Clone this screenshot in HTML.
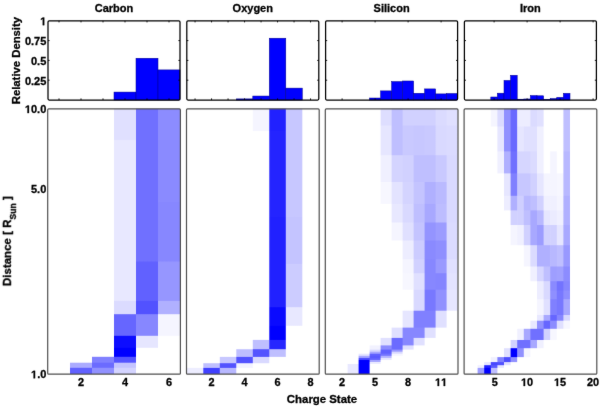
<!DOCTYPE html><html><head><meta charset="utf-8"><style>html,body{margin:0;padding:0;background:#fff;}svg{display:block;}text{font-family:"Liberation Sans",sans-serif;font-weight:bold;fill:#000;stroke:#000;stroke-width:0.3px;}svg{will-change:transform;}</style></head><body>
<svg width="600" height="407" viewBox="0 0 600 407">
<defs><filter id="k" filterUnits="userSpaceOnUse" x="0" y="0" width="600" height="407" color-interpolation-filters="sRGB"><feConvolveMatrix order="3" kernelMatrix="0.01 0.05 0.01 0.05 0.76 0.05 0.01 0.05 0.01" divisor="1" edgeMode="duplicate"/></filter></defs>
<rect width="600" height="407" fill="#fff"/>
<g filter="url(#k)">
<rect width="600" height="407" fill="#fff"/>
<text x="114.0" y="12.1" font-size="11" text-anchor="middle">Carbon</text>
<rect x="114.00" y="92.08" width="22.00" height="7.92" fill="#0000ff" stroke="#00008a" stroke-width="0.5"/>
<rect x="136.00" y="58.26" width="22.00" height="41.74" fill="#0000ff" stroke="#00008a" stroke-width="0.5"/>
<rect x="158.00" y="69.90" width="22.00" height="30.10" fill="#0000ff" stroke="#00008a" stroke-width="0.5"/>
<rect x="48.0" y="20.8" width="132.0" height="79.2" fill="none" stroke="#000" stroke-width="1.25" rx="1.2"/>
<line x1="59.00" y1="20.8" x2="59.00" y2="22.400000000000002" stroke="#000" stroke-width="0.9"/>
<line x1="59.00" y1="100.0" x2="59.00" y2="98.4" stroke="#000" stroke-width="0.9"/>
<line x1="81.00" y1="20.8" x2="81.00" y2="22.400000000000002" stroke="#000" stroke-width="0.9"/>
<line x1="81.00" y1="100.0" x2="81.00" y2="98.4" stroke="#000" stroke-width="0.9"/>
<line x1="103.00" y1="20.8" x2="103.00" y2="22.400000000000002" stroke="#000" stroke-width="0.9"/>
<line x1="103.00" y1="100.0" x2="103.00" y2="98.4" stroke="#000" stroke-width="0.9"/>
<line x1="125.00" y1="20.8" x2="125.00" y2="22.400000000000002" stroke="#000" stroke-width="0.9"/>
<line x1="125.00" y1="100.0" x2="125.00" y2="98.4" stroke="#000" stroke-width="0.9"/>
<line x1="147.00" y1="20.8" x2="147.00" y2="22.400000000000002" stroke="#000" stroke-width="0.9"/>
<line x1="147.00" y1="100.0" x2="147.00" y2="98.4" stroke="#000" stroke-width="0.9"/>
<line x1="169.00" y1="20.8" x2="169.00" y2="22.400000000000002" stroke="#000" stroke-width="0.9"/>
<line x1="169.00" y1="100.0" x2="169.00" y2="98.4" stroke="#000" stroke-width="0.9"/>
<line x1="48.0" y1="80.20" x2="49.6" y2="80.20" stroke="#000" stroke-width="0.9"/>
<line x1="180.0" y1="80.20" x2="178.4" y2="80.20" stroke="#000" stroke-width="0.9"/>
<line x1="48.0" y1="60.40" x2="49.6" y2="60.40" stroke="#000" stroke-width="0.9"/>
<line x1="180.0" y1="60.40" x2="178.4" y2="60.40" stroke="#000" stroke-width="0.9"/>
<line x1="48.0" y1="40.60" x2="49.6" y2="40.60" stroke="#000" stroke-width="0.9"/>
<line x1="180.0" y1="40.60" x2="178.4" y2="40.60" stroke="#000" stroke-width="0.9"/>
<linearGradient id="g0_2" gradientUnits="userSpaceOnUse" x1="0" y1="108.75" x2="0" y2="374.0"><stop offset="0.0000" stop-color="rgb(255,255,255)"/><stop offset="0.1159" stop-color="rgb(255,255,255)"/><stop offset="0.1197" stop-color="rgb(255,255,255)"/><stop offset="0.3497" stop-color="rgb(255,255,255)"/><stop offset="0.3534" stop-color="rgb(255,255,255)"/><stop offset="0.5740" stop-color="rgb(255,255,255)"/><stop offset="0.5778" stop-color="rgb(255,255,255)"/><stop offset="0.7225" stop-color="rgb(255,255,255)"/><stop offset="0.7263" stop-color="rgb(255,255,255)"/><stop offset="0.7727" stop-color="rgb(255,255,255)"/><stop offset="0.7764" stop-color="rgb(255,255,255)"/><stop offset="0.8541" stop-color="rgb(255,255,255)"/><stop offset="0.8579" stop-color="rgb(255,255,255)"/><stop offset="0.8993" stop-color="rgb(255,255,255)"/><stop offset="0.9031" stop-color="rgb(255,255,255)"/><stop offset="0.9333" stop-color="rgb(255,255,255)"/><stop offset="0.9370" stop-color="rgb(255,255,255)"/><stop offset="0.9555" stop-color="rgb(255,255,255)"/><stop offset="0.9593" stop-color="rgb(171,171,255)"/><stop offset="0.9747" stop-color="rgb(171,171,255)"/><stop offset="0.9785" stop-color="rgb(97,97,255)"/><stop offset="1.0000" stop-color="rgb(97,97,255)"/></linearGradient>
<rect x="70.00" y="108.75" width="22.60" height="265.25" fill="url(#g0_2)"/>
<linearGradient id="g0_3" gradientUnits="userSpaceOnUse" x1="0" y1="108.75" x2="0" y2="374.0"><stop offset="0.0000" stop-color="rgb(255,255,255)"/><stop offset="0.1159" stop-color="rgb(255,255,255)"/><stop offset="0.1197" stop-color="rgb(255,255,255)"/><stop offset="0.3497" stop-color="rgb(255,255,255)"/><stop offset="0.3534" stop-color="rgb(255,255,255)"/><stop offset="0.5740" stop-color="rgb(255,255,255)"/><stop offset="0.5778" stop-color="rgb(255,255,255)"/><stop offset="0.7225" stop-color="rgb(255,255,255)"/><stop offset="0.7263" stop-color="rgb(255,255,255)"/><stop offset="0.7727" stop-color="rgb(255,255,255)"/><stop offset="0.7764" stop-color="rgb(255,255,255)"/><stop offset="0.8541" stop-color="rgb(255,255,255)"/><stop offset="0.8579" stop-color="rgb(255,255,255)"/><stop offset="0.8993" stop-color="rgb(255,255,255)"/><stop offset="0.9031" stop-color="rgb(255,255,255)"/><stop offset="0.9333" stop-color="rgb(255,255,255)"/><stop offset="0.9370" stop-color="rgb(128,128,255)"/><stop offset="0.9555" stop-color="rgb(128,128,255)"/><stop offset="0.9593" stop-color="rgb(107,107,255)"/><stop offset="0.9747" stop-color="rgb(107,107,255)"/><stop offset="0.9785" stop-color="rgb(145,145,255)"/><stop offset="1.0000" stop-color="rgb(145,145,255)"/></linearGradient>
<rect x="92.00" y="108.75" width="22.60" height="265.25" fill="url(#g0_3)"/>
<linearGradient id="g0_4" gradientUnits="userSpaceOnUse" x1="0" y1="108.75" x2="0" y2="374.0"><stop offset="0.0000" stop-color="rgb(224,224,255)"/><stop offset="0.1159" stop-color="rgb(224,224,255)"/><stop offset="0.1197" stop-color="rgb(232,232,255)"/><stop offset="0.3497" stop-color="rgb(232,232,255)"/><stop offset="0.3534" stop-color="rgb(232,232,255)"/><stop offset="0.5740" stop-color="rgb(232,232,255)"/><stop offset="0.5778" stop-color="rgb(232,232,255)"/><stop offset="0.7225" stop-color="rgb(232,232,255)"/><stop offset="0.7263" stop-color="rgb(219,219,255)"/><stop offset="0.7727" stop-color="rgb(219,219,255)"/><stop offset="0.7764" stop-color="rgb(102,102,255)"/><stop offset="0.8541" stop-color="rgb(102,102,255)"/><stop offset="0.8579" stop-color="rgb(13,13,255)"/><stop offset="0.8993" stop-color="rgb(13,13,255)"/><stop offset="0.9031" stop-color="rgb(0,0,255)"/><stop offset="0.9333" stop-color="rgb(0,0,255)"/><stop offset="0.9370" stop-color="rgb(84,84,255)"/><stop offset="0.9555" stop-color="rgb(84,84,255)"/><stop offset="0.9593" stop-color="rgb(196,196,255)"/><stop offset="0.9747" stop-color="rgb(196,196,255)"/><stop offset="0.9785" stop-color="rgb(212,212,255)"/><stop offset="1.0000" stop-color="rgb(212,212,255)"/></linearGradient>
<rect x="114.00" y="108.75" width="22.60" height="265.25" fill="url(#g0_4)"/>
<linearGradient id="g0_5" gradientUnits="userSpaceOnUse" x1="0" y1="108.75" x2="0" y2="374.0"><stop offset="0.0000" stop-color="rgb(112,112,255)"/><stop offset="0.1159" stop-color="rgb(112,112,255)"/><stop offset="0.1197" stop-color="rgb(112,112,255)"/><stop offset="0.3497" stop-color="rgb(112,112,255)"/><stop offset="0.3534" stop-color="rgb(112,112,255)"/><stop offset="0.5740" stop-color="rgb(112,112,255)"/><stop offset="0.5778" stop-color="rgb(97,97,255)"/><stop offset="0.7225" stop-color="rgb(97,97,255)"/><stop offset="0.7263" stop-color="rgb(82,82,255)"/><stop offset="0.7727" stop-color="rgb(82,82,255)"/><stop offset="0.7764" stop-color="rgb(135,135,255)"/><stop offset="0.8541" stop-color="rgb(135,135,255)"/><stop offset="0.8579" stop-color="rgb(230,230,255)"/><stop offset="0.8993" stop-color="rgb(230,230,255)"/><stop offset="0.9031" stop-color="rgb(255,255,255)"/><stop offset="0.9333" stop-color="rgb(255,255,255)"/><stop offset="0.9370" stop-color="rgb(255,255,255)"/><stop offset="0.9555" stop-color="rgb(255,255,255)"/><stop offset="0.9593" stop-color="rgb(255,255,255)"/><stop offset="0.9747" stop-color="rgb(255,255,255)"/><stop offset="0.9785" stop-color="rgb(255,255,255)"/><stop offset="1.0000" stop-color="rgb(255,255,255)"/></linearGradient>
<rect x="136.00" y="108.75" width="22.60" height="265.25" fill="url(#g0_5)"/>
<linearGradient id="g0_6" gradientUnits="userSpaceOnUse" x1="0" y1="108.75" x2="0" y2="374.0"><stop offset="0.0000" stop-color="rgb(140,140,255)"/><stop offset="0.1159" stop-color="rgb(140,140,255)"/><stop offset="0.1197" stop-color="rgb(138,138,255)"/><stop offset="0.3497" stop-color="rgb(138,138,255)"/><stop offset="0.3534" stop-color="rgb(135,135,255)"/><stop offset="0.5740" stop-color="rgb(135,135,255)"/><stop offset="0.5778" stop-color="rgb(150,150,255)"/><stop offset="0.7225" stop-color="rgb(150,150,255)"/><stop offset="0.7263" stop-color="rgb(176,176,255)"/><stop offset="0.7727" stop-color="rgb(176,176,255)"/><stop offset="0.7764" stop-color="rgb(245,245,255)"/><stop offset="0.8541" stop-color="rgb(245,245,255)"/><stop offset="0.8579" stop-color="rgb(255,255,255)"/><stop offset="0.8993" stop-color="rgb(255,255,255)"/><stop offset="0.9031" stop-color="rgb(255,255,255)"/><stop offset="0.9333" stop-color="rgb(255,255,255)"/><stop offset="0.9370" stop-color="rgb(255,255,255)"/><stop offset="0.9555" stop-color="rgb(255,255,255)"/><stop offset="0.9593" stop-color="rgb(255,255,255)"/><stop offset="0.9747" stop-color="rgb(255,255,255)"/><stop offset="0.9785" stop-color="rgb(255,255,255)"/><stop offset="1.0000" stop-color="rgb(255,255,255)"/></linearGradient>
<rect x="158.00" y="108.75" width="22.00" height="265.25" fill="url(#g0_6)"/>
<rect x="47.70" y="108.9" width="132.70" height="265.30" fill="none" stroke="#505050" stroke-width="1.2" rx="1"/>
<text x="77.97" y="386.00" font-size="10.9">2</text>
<text x="121.97" y="386.00" font-size="10.9">4</text>
<text x="165.97" y="386.00" font-size="10.9">6</text>
<text x="252.8" y="12.1" font-size="11" text-anchor="middle">Oxygen</text>
<rect x="236.30" y="98.89" width="16.50" height="1.11" fill="#0000ff" stroke="#00008a" stroke-width="0.5"/>
<rect x="252.80" y="96.04" width="16.50" height="3.96" fill="#0000ff" stroke="#00008a" stroke-width="0.5"/>
<rect x="269.30" y="38.22" width="16.50" height="61.78" fill="#0000ff" stroke="#00008a" stroke-width="0.5"/>
<rect x="285.80" y="88.12" width="16.50" height="11.88" fill="#0000ff" stroke="#00008a" stroke-width="0.5"/>
<rect x="186.8" y="20.8" width="132.0" height="79.2" fill="none" stroke="#000" stroke-width="1.25" rx="1.2"/>
<line x1="195.05" y1="20.8" x2="195.05" y2="22.400000000000002" stroke="#000" stroke-width="0.9"/>
<line x1="195.05" y1="100.0" x2="195.05" y2="98.4" stroke="#000" stroke-width="0.9"/>
<line x1="211.55" y1="20.8" x2="211.55" y2="22.400000000000002" stroke="#000" stroke-width="0.9"/>
<line x1="211.55" y1="100.0" x2="211.55" y2="98.4" stroke="#000" stroke-width="0.9"/>
<line x1="228.05" y1="20.8" x2="228.05" y2="22.400000000000002" stroke="#000" stroke-width="0.9"/>
<line x1="228.05" y1="100.0" x2="228.05" y2="98.4" stroke="#000" stroke-width="0.9"/>
<line x1="244.55" y1="20.8" x2="244.55" y2="22.400000000000002" stroke="#000" stroke-width="0.9"/>
<line x1="244.55" y1="100.0" x2="244.55" y2="98.4" stroke="#000" stroke-width="0.9"/>
<line x1="261.05" y1="20.8" x2="261.05" y2="22.400000000000002" stroke="#000" stroke-width="0.9"/>
<line x1="261.05" y1="100.0" x2="261.05" y2="98.4" stroke="#000" stroke-width="0.9"/>
<line x1="277.55" y1="20.8" x2="277.55" y2="22.400000000000002" stroke="#000" stroke-width="0.9"/>
<line x1="277.55" y1="100.0" x2="277.55" y2="98.4" stroke="#000" stroke-width="0.9"/>
<line x1="294.05" y1="20.8" x2="294.05" y2="22.400000000000002" stroke="#000" stroke-width="0.9"/>
<line x1="294.05" y1="100.0" x2="294.05" y2="98.4" stroke="#000" stroke-width="0.9"/>
<line x1="310.55" y1="20.8" x2="310.55" y2="22.400000000000002" stroke="#000" stroke-width="0.9"/>
<line x1="310.55" y1="100.0" x2="310.55" y2="98.4" stroke="#000" stroke-width="0.9"/>
<line x1="186.8" y1="80.20" x2="188.4" y2="80.20" stroke="#000" stroke-width="0.9"/>
<line x1="318.8" y1="80.20" x2="317.2" y2="80.20" stroke="#000" stroke-width="0.9"/>
<line x1="186.8" y1="60.40" x2="188.4" y2="60.40" stroke="#000" stroke-width="0.9"/>
<line x1="318.8" y1="60.40" x2="317.2" y2="60.40" stroke="#000" stroke-width="0.9"/>
<line x1="186.8" y1="40.60" x2="188.4" y2="40.60" stroke="#000" stroke-width="0.9"/>
<line x1="318.8" y1="40.60" x2="317.2" y2="40.60" stroke="#000" stroke-width="0.9"/>
<linearGradient id="g1_1" gradientUnits="userSpaceOnUse" x1="0" y1="108.75" x2="0" y2="374.0"><stop offset="0.0000" stop-color="rgb(255,255,255)"/><stop offset="0.0820" stop-color="rgb(255,255,255)"/><stop offset="0.0858" stop-color="rgb(255,255,255)"/><stop offset="0.4062" stop-color="rgb(255,255,255)"/><stop offset="0.4100" stop-color="rgb(255,255,255)"/><stop offset="0.5830" stop-color="rgb(255,255,255)"/><stop offset="0.5868" stop-color="rgb(255,255,255)"/><stop offset="0.7463" stop-color="rgb(255,255,255)"/><stop offset="0.7500" stop-color="rgb(255,255,255)"/><stop offset="0.8164" stop-color="rgb(255,255,255)"/><stop offset="0.8202" stop-color="rgb(255,255,255)"/><stop offset="0.8696" stop-color="rgb(255,255,255)"/><stop offset="0.8733" stop-color="rgb(255,255,255)"/><stop offset="0.9046" stop-color="rgb(255,255,255)"/><stop offset="0.9084" stop-color="rgb(255,255,255)"/><stop offset="0.9336" stop-color="rgb(255,255,255)"/><stop offset="0.9374" stop-color="rgb(255,255,255)"/><stop offset="0.9574" stop-color="rgb(255,255,255)"/><stop offset="0.9612" stop-color="rgb(255,255,255)"/><stop offset="0.9751" stop-color="rgb(255,255,255)"/><stop offset="0.9789" stop-color="rgb(237,237,255)"/><stop offset="1.0000" stop-color="rgb(237,237,255)"/></linearGradient>
<rect x="186.80" y="108.75" width="17.10" height="265.25" fill="url(#g1_1)"/>
<linearGradient id="g1_2" gradientUnits="userSpaceOnUse" x1="0" y1="108.75" x2="0" y2="374.0"><stop offset="0.0000" stop-color="rgb(255,255,255)"/><stop offset="0.0820" stop-color="rgb(255,255,255)"/><stop offset="0.0858" stop-color="rgb(255,255,255)"/><stop offset="0.4062" stop-color="rgb(255,255,255)"/><stop offset="0.4100" stop-color="rgb(255,255,255)"/><stop offset="0.5830" stop-color="rgb(255,255,255)"/><stop offset="0.5868" stop-color="rgb(255,255,255)"/><stop offset="0.7463" stop-color="rgb(255,255,255)"/><stop offset="0.7500" stop-color="rgb(255,255,255)"/><stop offset="0.8164" stop-color="rgb(255,255,255)"/><stop offset="0.8202" stop-color="rgb(255,255,255)"/><stop offset="0.8696" stop-color="rgb(255,255,255)"/><stop offset="0.8733" stop-color="rgb(255,255,255)"/><stop offset="0.9046" stop-color="rgb(255,255,255)"/><stop offset="0.9084" stop-color="rgb(255,255,255)"/><stop offset="0.9336" stop-color="rgb(255,255,255)"/><stop offset="0.9374" stop-color="rgb(255,255,255)"/><stop offset="0.9574" stop-color="rgb(255,255,255)"/><stop offset="0.9612" stop-color="rgb(191,191,255)"/><stop offset="0.9751" stop-color="rgb(191,191,255)"/><stop offset="0.9789" stop-color="rgb(64,64,255)"/><stop offset="1.0000" stop-color="rgb(64,64,255)"/></linearGradient>
<rect x="203.30" y="108.75" width="17.10" height="265.25" fill="url(#g1_2)"/>
<linearGradient id="g1_3" gradientUnits="userSpaceOnUse" x1="0" y1="108.75" x2="0" y2="374.0"><stop offset="0.0000" stop-color="rgb(255,255,255)"/><stop offset="0.0820" stop-color="rgb(255,255,255)"/><stop offset="0.0858" stop-color="rgb(255,255,255)"/><stop offset="0.4062" stop-color="rgb(255,255,255)"/><stop offset="0.4100" stop-color="rgb(255,255,255)"/><stop offset="0.5830" stop-color="rgb(255,255,255)"/><stop offset="0.5868" stop-color="rgb(255,255,255)"/><stop offset="0.7463" stop-color="rgb(255,255,255)"/><stop offset="0.7500" stop-color="rgb(255,255,255)"/><stop offset="0.8164" stop-color="rgb(255,255,255)"/><stop offset="0.8202" stop-color="rgb(255,255,255)"/><stop offset="0.8696" stop-color="rgb(255,255,255)"/><stop offset="0.8733" stop-color="rgb(255,255,255)"/><stop offset="0.9046" stop-color="rgb(255,255,255)"/><stop offset="0.9084" stop-color="rgb(255,255,255)"/><stop offset="0.9336" stop-color="rgb(255,255,255)"/><stop offset="0.9374" stop-color="rgb(199,199,255)"/><stop offset="0.9574" stop-color="rgb(199,199,255)"/><stop offset="0.9612" stop-color="rgb(82,82,255)"/><stop offset="0.9751" stop-color="rgb(82,82,255)"/><stop offset="0.9789" stop-color="rgb(184,184,255)"/><stop offset="1.0000" stop-color="rgb(184,184,255)"/></linearGradient>
<rect x="219.80" y="108.75" width="17.10" height="265.25" fill="url(#g1_3)"/>
<linearGradient id="g1_4" gradientUnits="userSpaceOnUse" x1="0" y1="108.75" x2="0" y2="374.0"><stop offset="0.0000" stop-color="rgb(255,255,255)"/><stop offset="0.0820" stop-color="rgb(255,255,255)"/><stop offset="0.0858" stop-color="rgb(255,255,255)"/><stop offset="0.4062" stop-color="rgb(255,255,255)"/><stop offset="0.4100" stop-color="rgb(255,255,255)"/><stop offset="0.5830" stop-color="rgb(255,255,255)"/><stop offset="0.5868" stop-color="rgb(255,255,255)"/><stop offset="0.7463" stop-color="rgb(255,255,255)"/><stop offset="0.7500" stop-color="rgb(255,255,255)"/><stop offset="0.8164" stop-color="rgb(255,255,255)"/><stop offset="0.8202" stop-color="rgb(255,255,255)"/><stop offset="0.8696" stop-color="rgb(255,255,255)"/><stop offset="0.8733" stop-color="rgb(255,255,255)"/><stop offset="0.9046" stop-color="rgb(255,255,255)"/><stop offset="0.9084" stop-color="rgb(191,191,255)"/><stop offset="0.9336" stop-color="rgb(191,191,255)"/><stop offset="0.9374" stop-color="rgb(82,82,255)"/><stop offset="0.9574" stop-color="rgb(82,82,255)"/><stop offset="0.9612" stop-color="rgb(242,242,255)"/><stop offset="0.9751" stop-color="rgb(242,242,255)"/><stop offset="0.9789" stop-color="rgb(255,255,255)"/><stop offset="1.0000" stop-color="rgb(255,255,255)"/></linearGradient>
<rect x="236.30" y="108.75" width="17.10" height="265.25" fill="url(#g1_4)"/>
<linearGradient id="g1_5" gradientUnits="userSpaceOnUse" x1="0" y1="108.75" x2="0" y2="374.0"><stop offset="0.0000" stop-color="rgb(245,245,255)"/><stop offset="0.0820" stop-color="rgb(245,245,255)"/><stop offset="0.0858" stop-color="rgb(255,255,255)"/><stop offset="0.4062" stop-color="rgb(255,255,255)"/><stop offset="0.4100" stop-color="rgb(255,255,255)"/><stop offset="0.5830" stop-color="rgb(255,255,255)"/><stop offset="0.5868" stop-color="rgb(255,255,255)"/><stop offset="0.7463" stop-color="rgb(255,255,255)"/><stop offset="0.7500" stop-color="rgb(255,255,255)"/><stop offset="0.8164" stop-color="rgb(255,255,255)"/><stop offset="0.8202" stop-color="rgb(255,255,255)"/><stop offset="0.8696" stop-color="rgb(255,255,255)"/><stop offset="0.8733" stop-color="rgb(191,191,255)"/><stop offset="0.9046" stop-color="rgb(191,191,255)"/><stop offset="0.9084" stop-color="rgb(84,84,255)"/><stop offset="0.9336" stop-color="rgb(84,84,255)"/><stop offset="0.9374" stop-color="rgb(217,217,255)"/><stop offset="0.9574" stop-color="rgb(217,217,255)"/><stop offset="0.9612" stop-color="rgb(255,255,255)"/><stop offset="0.9751" stop-color="rgb(255,255,255)"/><stop offset="0.9789" stop-color="rgb(255,255,255)"/><stop offset="1.0000" stop-color="rgb(255,255,255)"/></linearGradient>
<rect x="252.80" y="108.75" width="17.10" height="265.25" fill="url(#g1_5)"/>
<linearGradient id="g1_6" gradientUnits="userSpaceOnUse" x1="0" y1="108.75" x2="0" y2="374.0"><stop offset="0.0000" stop-color="rgb(33,33,255)"/><stop offset="0.0820" stop-color="rgb(33,33,255)"/><stop offset="0.0858" stop-color="rgb(36,36,255)"/><stop offset="0.4062" stop-color="rgb(36,36,255)"/><stop offset="0.4100" stop-color="rgb(33,33,255)"/><stop offset="0.5830" stop-color="rgb(33,33,255)"/><stop offset="0.5868" stop-color="rgb(33,33,255)"/><stop offset="0.7463" stop-color="rgb(33,33,255)"/><stop offset="0.7500" stop-color="rgb(10,10,255)"/><stop offset="0.8164" stop-color="rgb(10,10,255)"/><stop offset="0.8202" stop-color="rgb(0,0,255)"/><stop offset="0.8696" stop-color="rgb(0,0,255)"/><stop offset="0.8733" stop-color="rgb(38,38,255)"/><stop offset="0.9046" stop-color="rgb(38,38,255)"/><stop offset="0.9084" stop-color="rgb(191,191,255)"/><stop offset="0.9336" stop-color="rgb(191,191,255)"/><stop offset="0.9374" stop-color="rgb(255,255,255)"/><stop offset="0.9574" stop-color="rgb(255,255,255)"/><stop offset="0.9612" stop-color="rgb(255,255,255)"/><stop offset="0.9751" stop-color="rgb(255,255,255)"/><stop offset="0.9789" stop-color="rgb(255,255,255)"/><stop offset="1.0000" stop-color="rgb(255,255,255)"/></linearGradient>
<rect x="269.30" y="108.75" width="17.10" height="265.25" fill="url(#g1_6)"/>
<linearGradient id="g1_7" gradientUnits="userSpaceOnUse" x1="0" y1="108.75" x2="0" y2="374.0"><stop offset="0.0000" stop-color="rgb(199,199,255)"/><stop offset="0.0820" stop-color="rgb(199,199,255)"/><stop offset="0.0858" stop-color="rgb(199,199,255)"/><stop offset="0.4062" stop-color="rgb(199,199,255)"/><stop offset="0.4100" stop-color="rgb(196,196,255)"/><stop offset="0.5830" stop-color="rgb(196,196,255)"/><stop offset="0.5868" stop-color="rgb(204,204,255)"/><stop offset="0.7463" stop-color="rgb(204,204,255)"/><stop offset="0.7500" stop-color="rgb(232,232,255)"/><stop offset="0.8164" stop-color="rgb(232,232,255)"/><stop offset="0.8202" stop-color="rgb(255,255,255)"/><stop offset="0.8696" stop-color="rgb(255,255,255)"/><stop offset="0.8733" stop-color="rgb(255,255,255)"/><stop offset="0.9046" stop-color="rgb(255,255,255)"/><stop offset="0.9084" stop-color="rgb(255,255,255)"/><stop offset="0.9336" stop-color="rgb(255,255,255)"/><stop offset="0.9374" stop-color="rgb(255,255,255)"/><stop offset="0.9574" stop-color="rgb(255,255,255)"/><stop offset="0.9612" stop-color="rgb(255,255,255)"/><stop offset="0.9751" stop-color="rgb(255,255,255)"/><stop offset="0.9789" stop-color="rgb(255,255,255)"/><stop offset="1.0000" stop-color="rgb(255,255,255)"/></linearGradient>
<rect x="285.80" y="108.75" width="16.50" height="265.25" fill="url(#g1_7)"/>
<rect x="186.50" y="108.9" width="132.70" height="265.30" fill="none" stroke="#505050" stroke-width="1.2" rx="1"/>
<text x="208.52" y="386.00" font-size="10.9">2</text>
<text x="241.52" y="386.00" font-size="10.9">4</text>
<text x="274.52" y="386.00" font-size="10.9">6</text>
<text x="307.52" y="386.00" font-size="10.9">8</text>
<text x="391.6" y="12.1" font-size="11" text-anchor="middle">Silicon</text>
<rect x="369.60" y="98.02" width="11.00" height="1.98" fill="#0000ff" stroke="#00008a" stroke-width="0.5"/>
<rect x="380.60" y="90.89" width="11.00" height="9.11" fill="#0000ff" stroke="#00008a" stroke-width="0.5"/>
<rect x="391.60" y="81.55" width="11.00" height="18.45" fill="#0000ff" stroke="#00008a" stroke-width="0.5"/>
<rect x="402.60" y="80.99" width="11.00" height="19.01" fill="#0000ff" stroke="#00008a" stroke-width="0.5"/>
<rect x="413.60" y="93.27" width="11.00" height="6.73" fill="#0000ff" stroke="#00008a" stroke-width="0.5"/>
<rect x="424.60" y="88.91" width="11.00" height="11.09" fill="#0000ff" stroke="#00008a" stroke-width="0.5"/>
<rect x="435.60" y="93.90" width="11.00" height="6.10" fill="#0000ff" stroke="#00008a" stroke-width="0.5"/>
<rect x="446.60" y="93.51" width="11.00" height="6.49" fill="#0000ff" stroke="#00008a" stroke-width="0.5"/>
<rect x="325.6" y="20.8" width="132.0" height="79.2" fill="none" stroke="#000" stroke-width="1.25" rx="1.2"/>
<line x1="342.10" y1="20.8" x2="342.10" y2="22.400000000000002" stroke="#000" stroke-width="0.9"/>
<line x1="342.10" y1="100.0" x2="342.10" y2="98.4" stroke="#000" stroke-width="0.9"/>
<line x1="375.10" y1="20.8" x2="375.10" y2="22.400000000000002" stroke="#000" stroke-width="0.9"/>
<line x1="375.10" y1="100.0" x2="375.10" y2="98.4" stroke="#000" stroke-width="0.9"/>
<line x1="408.10" y1="20.8" x2="408.10" y2="22.400000000000002" stroke="#000" stroke-width="0.9"/>
<line x1="408.10" y1="100.0" x2="408.10" y2="98.4" stroke="#000" stroke-width="0.9"/>
<line x1="441.10" y1="20.8" x2="441.10" y2="22.400000000000002" stroke="#000" stroke-width="0.9"/>
<line x1="441.10" y1="100.0" x2="441.10" y2="98.4" stroke="#000" stroke-width="0.9"/>
<line x1="325.6" y1="80.20" x2="327.20000000000005" y2="80.20" stroke="#000" stroke-width="0.9"/>
<line x1="457.6" y1="80.20" x2="456.0" y2="80.20" stroke="#000" stroke-width="0.9"/>
<line x1="325.6" y1="60.40" x2="327.20000000000005" y2="60.40" stroke="#000" stroke-width="0.9"/>
<line x1="457.6" y1="60.40" x2="456.0" y2="60.40" stroke="#000" stroke-width="0.9"/>
<line x1="325.6" y1="40.60" x2="327.20000000000005" y2="40.60" stroke="#000" stroke-width="0.9"/>
<line x1="457.6" y1="40.60" x2="456.0" y2="40.60" stroke="#000" stroke-width="0.9"/>
<linearGradient id="g2_3" gradientUnits="userSpaceOnUse" x1="0" y1="108.75" x2="0" y2="374.0"><stop offset="0.0000" stop-color="rgb(255,255,255)"/><stop offset="0.0613" stop-color="rgb(255,255,255)"/><stop offset="0.0650" stop-color="rgb(255,255,255)"/><stop offset="0.1732" stop-color="rgb(255,255,255)"/><stop offset="0.1770" stop-color="rgb(255,255,255)"/><stop offset="0.2743" stop-color="rgb(255,255,255)"/><stop offset="0.2780" stop-color="rgb(255,255,255)"/><stop offset="0.3568" stop-color="rgb(255,255,255)"/><stop offset="0.3606" stop-color="rgb(255,255,255)"/><stop offset="0.4270" stop-color="rgb(255,255,255)"/><stop offset="0.4307" stop-color="rgb(255,255,255)"/><stop offset="0.4948" stop-color="rgb(255,255,255)"/><stop offset="0.4986" stop-color="rgb(255,255,255)"/><stop offset="0.5653" stop-color="rgb(255,255,255)"/><stop offset="0.5691" stop-color="rgb(255,255,255)"/><stop offset="0.6181" stop-color="rgb(255,255,255)"/><stop offset="0.6219" stop-color="rgb(255,255,255)"/><stop offset="0.6803" stop-color="rgb(255,255,255)"/><stop offset="0.6841" stop-color="rgb(255,255,255)"/><stop offset="0.7595" stop-color="rgb(255,255,255)"/><stop offset="0.7632" stop-color="rgb(255,255,255)"/><stop offset="0.8232" stop-color="rgb(255,255,255)"/><stop offset="0.8270" stop-color="rgb(255,255,255)"/><stop offset="0.8620" stop-color="rgb(255,255,255)"/><stop offset="0.8658" stop-color="rgb(255,255,255)"/><stop offset="0.8903" stop-color="rgb(255,255,255)"/><stop offset="0.8941" stop-color="rgb(255,255,255)"/><stop offset="0.9061" stop-color="rgb(255,255,255)"/><stop offset="0.9099" stop-color="rgb(255,255,255)"/><stop offset="0.9140" stop-color="rgb(255,255,255)"/><stop offset="0.9178" stop-color="rgb(255,255,255)"/><stop offset="0.9216" stop-color="rgb(255,255,255)"/><stop offset="0.9254" stop-color="rgb(255,255,255)"/><stop offset="0.9295" stop-color="rgb(255,255,255)"/><stop offset="0.9333" stop-color="rgb(255,255,255)"/><stop offset="0.9374" stop-color="rgb(255,255,255)"/><stop offset="0.9412" stop-color="rgb(255,255,255)"/><stop offset="0.9450" stop-color="rgb(255,255,255)"/><stop offset="0.9487" stop-color="rgb(255,255,255)"/><stop offset="0.9529" stop-color="rgb(255,255,255)"/><stop offset="0.9566" stop-color="rgb(255,255,255)"/><stop offset="0.9604" stop-color="rgb(255,255,255)"/><stop offset="0.9642" stop-color="rgb(232,232,255)"/><stop offset="1.0000" stop-color="rgb(232,232,255)"/></linearGradient>
<rect x="347.60" y="108.75" width="11.60" height="265.25" fill="url(#g2_3)"/>
<linearGradient id="g2_4" gradientUnits="userSpaceOnUse" x1="0" y1="108.75" x2="0" y2="374.0"><stop offset="0.0000" stop-color="rgb(255,255,255)"/><stop offset="0.0613" stop-color="rgb(255,255,255)"/><stop offset="0.0650" stop-color="rgb(255,255,255)"/><stop offset="0.1732" stop-color="rgb(255,255,255)"/><stop offset="0.1770" stop-color="rgb(255,255,255)"/><stop offset="0.2743" stop-color="rgb(255,255,255)"/><stop offset="0.2780" stop-color="rgb(255,255,255)"/><stop offset="0.3568" stop-color="rgb(255,255,255)"/><stop offset="0.3606" stop-color="rgb(255,255,255)"/><stop offset="0.4270" stop-color="rgb(255,255,255)"/><stop offset="0.4307" stop-color="rgb(255,255,255)"/><stop offset="0.4948" stop-color="rgb(255,255,255)"/><stop offset="0.4986" stop-color="rgb(255,255,255)"/><stop offset="0.5653" stop-color="rgb(255,255,255)"/><stop offset="0.5691" stop-color="rgb(255,255,255)"/><stop offset="0.6181" stop-color="rgb(255,255,255)"/><stop offset="0.6219" stop-color="rgb(255,255,255)"/><stop offset="0.6803" stop-color="rgb(255,255,255)"/><stop offset="0.6841" stop-color="rgb(255,255,255)"/><stop offset="0.7595" stop-color="rgb(255,255,255)"/><stop offset="0.7632" stop-color="rgb(255,255,255)"/><stop offset="0.8232" stop-color="rgb(255,255,255)"/><stop offset="0.8270" stop-color="rgb(255,255,255)"/><stop offset="0.8620" stop-color="rgb(255,255,255)"/><stop offset="0.8658" stop-color="rgb(255,255,255)"/><stop offset="0.8903" stop-color="rgb(255,255,255)"/><stop offset="0.8941" stop-color="rgb(255,255,255)"/><stop offset="0.9061" stop-color="rgb(255,255,255)"/><stop offset="0.9099" stop-color="rgb(255,255,255)"/><stop offset="0.9140" stop-color="rgb(255,255,255)"/><stop offset="0.9178" stop-color="rgb(255,255,255)"/><stop offset="0.9216" stop-color="rgb(255,255,255)"/><stop offset="0.9254" stop-color="rgb(230,230,255)"/><stop offset="0.9295" stop-color="rgb(230,230,255)"/><stop offset="0.9333" stop-color="rgb(166,166,255)"/><stop offset="0.9374" stop-color="rgb(166,166,255)"/><stop offset="0.9412" stop-color="rgb(77,77,255)"/><stop offset="0.9450" stop-color="rgb(77,77,255)"/><stop offset="0.9487" stop-color="rgb(0,0,255)"/><stop offset="0.9529" stop-color="rgb(0,0,255)"/><stop offset="0.9566" stop-color="rgb(0,0,255)"/><stop offset="0.9604" stop-color="rgb(0,0,255)"/><stop offset="0.9642" stop-color="rgb(0,0,255)"/><stop offset="1.0000" stop-color="rgb(0,0,255)"/></linearGradient>
<rect x="358.60" y="108.75" width="11.60" height="265.25" fill="url(#g2_4)"/>
<linearGradient id="g2_5" gradientUnits="userSpaceOnUse" x1="0" y1="108.75" x2="0" y2="374.0"><stop offset="0.0000" stop-color="rgb(255,255,255)"/><stop offset="0.0613" stop-color="rgb(255,255,255)"/><stop offset="0.0650" stop-color="rgb(255,255,255)"/><stop offset="0.1732" stop-color="rgb(255,255,255)"/><stop offset="0.1770" stop-color="rgb(255,255,255)"/><stop offset="0.2743" stop-color="rgb(255,255,255)"/><stop offset="0.2780" stop-color="rgb(255,255,255)"/><stop offset="0.3568" stop-color="rgb(255,255,255)"/><stop offset="0.3606" stop-color="rgb(255,255,255)"/><stop offset="0.4270" stop-color="rgb(255,255,255)"/><stop offset="0.4307" stop-color="rgb(255,255,255)"/><stop offset="0.4948" stop-color="rgb(255,255,255)"/><stop offset="0.4986" stop-color="rgb(255,255,255)"/><stop offset="0.5653" stop-color="rgb(255,255,255)"/><stop offset="0.5691" stop-color="rgb(255,255,255)"/><stop offset="0.6181" stop-color="rgb(255,255,255)"/><stop offset="0.6219" stop-color="rgb(255,255,255)"/><stop offset="0.6803" stop-color="rgb(255,255,255)"/><stop offset="0.6841" stop-color="rgb(255,255,255)"/><stop offset="0.7595" stop-color="rgb(255,255,255)"/><stop offset="0.7632" stop-color="rgb(255,255,255)"/><stop offset="0.8232" stop-color="rgb(255,255,255)"/><stop offset="0.8270" stop-color="rgb(255,255,255)"/><stop offset="0.8620" stop-color="rgb(255,255,255)"/><stop offset="0.8658" stop-color="rgb(255,255,255)"/><stop offset="0.8903" stop-color="rgb(255,255,255)"/><stop offset="0.8941" stop-color="rgb(242,242,255)"/><stop offset="0.9061" stop-color="rgb(242,242,255)"/><stop offset="0.9099" stop-color="rgb(217,217,255)"/><stop offset="0.9140" stop-color="rgb(217,217,255)"/><stop offset="0.9178" stop-color="rgb(166,166,255)"/><stop offset="0.9216" stop-color="rgb(166,166,255)"/><stop offset="0.9254" stop-color="rgb(97,97,255)"/><stop offset="0.9295" stop-color="rgb(97,97,255)"/><stop offset="0.9333" stop-color="rgb(89,89,255)"/><stop offset="0.9374" stop-color="rgb(89,89,255)"/><stop offset="0.9412" stop-color="rgb(97,97,255)"/><stop offset="0.9450" stop-color="rgb(97,97,255)"/><stop offset="0.9487" stop-color="rgb(166,166,255)"/><stop offset="0.9529" stop-color="rgb(166,166,255)"/><stop offset="0.9566" stop-color="rgb(235,235,255)"/><stop offset="0.9604" stop-color="rgb(235,235,255)"/><stop offset="0.9642" stop-color="rgb(255,255,255)"/><stop offset="1.0000" stop-color="rgb(255,255,255)"/></linearGradient>
<rect x="369.60" y="108.75" width="11.60" height="265.25" fill="url(#g2_5)"/>
<linearGradient id="g2_6" gradientUnits="userSpaceOnUse" x1="0" y1="108.75" x2="0" y2="374.0"><stop offset="0.0000" stop-color="rgb(222,222,255)"/><stop offset="0.0613" stop-color="rgb(222,222,255)"/><stop offset="0.0650" stop-color="rgb(230,230,255)"/><stop offset="0.1732" stop-color="rgb(230,230,255)"/><stop offset="0.1770" stop-color="rgb(240,240,255)"/><stop offset="0.2743" stop-color="rgb(240,240,255)"/><stop offset="0.2780" stop-color="rgb(247,247,255)"/><stop offset="0.3568" stop-color="rgb(247,247,255)"/><stop offset="0.3606" stop-color="rgb(255,255,255)"/><stop offset="0.4270" stop-color="rgb(255,255,255)"/><stop offset="0.4307" stop-color="rgb(255,255,255)"/><stop offset="0.4948" stop-color="rgb(255,255,255)"/><stop offset="0.4986" stop-color="rgb(255,255,255)"/><stop offset="0.5653" stop-color="rgb(255,255,255)"/><stop offset="0.5691" stop-color="rgb(255,255,255)"/><stop offset="0.6181" stop-color="rgb(255,255,255)"/><stop offset="0.6219" stop-color="rgb(255,255,255)"/><stop offset="0.6803" stop-color="rgb(255,255,255)"/><stop offset="0.6841" stop-color="rgb(255,255,255)"/><stop offset="0.7595" stop-color="rgb(255,255,255)"/><stop offset="0.7632" stop-color="rgb(255,255,255)"/><stop offset="0.8232" stop-color="rgb(255,255,255)"/><stop offset="0.8270" stop-color="rgb(255,255,255)"/><stop offset="0.8620" stop-color="rgb(255,255,255)"/><stop offset="0.8658" stop-color="rgb(224,224,255)"/><stop offset="0.8903" stop-color="rgb(224,224,255)"/><stop offset="0.8941" stop-color="rgb(140,140,255)"/><stop offset="0.9061" stop-color="rgb(140,140,255)"/><stop offset="0.9099" stop-color="rgb(97,97,255)"/><stop offset="0.9140" stop-color="rgb(97,97,255)"/><stop offset="0.9178" stop-color="rgb(97,97,255)"/><stop offset="0.9216" stop-color="rgb(97,97,255)"/><stop offset="0.9254" stop-color="rgb(115,115,255)"/><stop offset="0.9295" stop-color="rgb(115,115,255)"/><stop offset="0.9333" stop-color="rgb(178,178,255)"/><stop offset="0.9374" stop-color="rgb(178,178,255)"/><stop offset="0.9412" stop-color="rgb(230,230,255)"/><stop offset="0.9450" stop-color="rgb(230,230,255)"/><stop offset="0.9487" stop-color="rgb(255,255,255)"/><stop offset="0.9529" stop-color="rgb(255,255,255)"/><stop offset="0.9566" stop-color="rgb(255,255,255)"/><stop offset="0.9604" stop-color="rgb(255,255,255)"/><stop offset="0.9642" stop-color="rgb(255,255,255)"/><stop offset="1.0000" stop-color="rgb(255,255,255)"/></linearGradient>
<rect x="380.60" y="108.75" width="11.60" height="265.25" fill="url(#g2_6)"/>
<linearGradient id="g2_7" gradientUnits="userSpaceOnUse" x1="0" y1="108.75" x2="0" y2="374.0"><stop offset="0.0000" stop-color="rgb(191,191,255)"/><stop offset="0.0613" stop-color="rgb(191,191,255)"/><stop offset="0.0650" stop-color="rgb(191,191,255)"/><stop offset="0.1732" stop-color="rgb(191,191,255)"/><stop offset="0.1770" stop-color="rgb(212,212,255)"/><stop offset="0.2743" stop-color="rgb(212,212,255)"/><stop offset="0.2780" stop-color="rgb(227,227,255)"/><stop offset="0.3568" stop-color="rgb(227,227,255)"/><stop offset="0.3606" stop-color="rgb(232,232,255)"/><stop offset="0.4270" stop-color="rgb(232,232,255)"/><stop offset="0.4307" stop-color="rgb(245,245,255)"/><stop offset="0.4948" stop-color="rgb(245,245,255)"/><stop offset="0.4986" stop-color="rgb(255,255,255)"/><stop offset="0.5653" stop-color="rgb(255,255,255)"/><stop offset="0.5691" stop-color="rgb(255,255,255)"/><stop offset="0.6181" stop-color="rgb(255,255,255)"/><stop offset="0.6219" stop-color="rgb(255,255,255)"/><stop offset="0.6803" stop-color="rgb(255,255,255)"/><stop offset="0.6841" stop-color="rgb(255,255,255)"/><stop offset="0.7595" stop-color="rgb(255,255,255)"/><stop offset="0.7632" stop-color="rgb(255,255,255)"/><stop offset="0.8232" stop-color="rgb(255,255,255)"/><stop offset="0.8270" stop-color="rgb(224,224,255)"/><stop offset="0.8620" stop-color="rgb(224,224,255)"/><stop offset="0.8658" stop-color="rgb(107,107,255)"/><stop offset="0.8903" stop-color="rgb(107,107,255)"/><stop offset="0.8941" stop-color="rgb(107,107,255)"/><stop offset="0.9061" stop-color="rgb(107,107,255)"/><stop offset="0.9099" stop-color="rgb(153,153,255)"/><stop offset="0.9140" stop-color="rgb(153,153,255)"/><stop offset="0.9178" stop-color="rgb(217,217,255)"/><stop offset="0.9216" stop-color="rgb(217,217,255)"/><stop offset="0.9254" stop-color="rgb(245,245,255)"/><stop offset="0.9295" stop-color="rgb(245,245,255)"/><stop offset="0.9333" stop-color="rgb(255,255,255)"/><stop offset="0.9374" stop-color="rgb(255,255,255)"/><stop offset="0.9412" stop-color="rgb(255,255,255)"/><stop offset="0.9450" stop-color="rgb(255,255,255)"/><stop offset="0.9487" stop-color="rgb(255,255,255)"/><stop offset="0.9529" stop-color="rgb(255,255,255)"/><stop offset="0.9566" stop-color="rgb(255,255,255)"/><stop offset="0.9604" stop-color="rgb(255,255,255)"/><stop offset="0.9642" stop-color="rgb(255,255,255)"/><stop offset="1.0000" stop-color="rgb(255,255,255)"/></linearGradient>
<rect x="391.60" y="108.75" width="11.60" height="265.25" fill="url(#g2_7)"/>
<linearGradient id="g2_8" gradientUnits="userSpaceOnUse" x1="0" y1="108.75" x2="0" y2="374.0"><stop offset="0.0000" stop-color="rgb(209,209,255)"/><stop offset="0.0613" stop-color="rgb(209,209,255)"/><stop offset="0.0650" stop-color="rgb(201,201,255)"/><stop offset="0.1732" stop-color="rgb(201,201,255)"/><stop offset="0.1770" stop-color="rgb(209,209,255)"/><stop offset="0.2743" stop-color="rgb(209,209,255)"/><stop offset="0.2780" stop-color="rgb(212,212,255)"/><stop offset="0.3568" stop-color="rgb(212,212,255)"/><stop offset="0.3606" stop-color="rgb(217,217,255)"/><stop offset="0.4270" stop-color="rgb(217,217,255)"/><stop offset="0.4307" stop-color="rgb(224,224,255)"/><stop offset="0.4948" stop-color="rgb(224,224,255)"/><stop offset="0.4986" stop-color="rgb(237,237,255)"/><stop offset="0.5653" stop-color="rgb(237,237,255)"/><stop offset="0.5691" stop-color="rgb(245,245,255)"/><stop offset="0.6181" stop-color="rgb(245,245,255)"/><stop offset="0.6219" stop-color="rgb(247,247,255)"/><stop offset="0.6803" stop-color="rgb(247,247,255)"/><stop offset="0.6841" stop-color="rgb(255,255,255)"/><stop offset="0.7595" stop-color="rgb(255,255,255)"/><stop offset="0.7632" stop-color="rgb(230,230,255)"/><stop offset="0.8232" stop-color="rgb(230,230,255)"/><stop offset="0.8270" stop-color="rgb(135,135,255)"/><stop offset="0.8620" stop-color="rgb(135,135,255)"/><stop offset="0.8658" stop-color="rgb(135,135,255)"/><stop offset="0.8903" stop-color="rgb(135,135,255)"/><stop offset="0.8941" stop-color="rgb(224,224,255)"/><stop offset="0.9061" stop-color="rgb(224,224,255)"/><stop offset="0.9099" stop-color="rgb(255,255,255)"/><stop offset="0.9140" stop-color="rgb(255,255,255)"/><stop offset="0.9178" stop-color="rgb(255,255,255)"/><stop offset="0.9216" stop-color="rgb(255,255,255)"/><stop offset="0.9254" stop-color="rgb(255,255,255)"/><stop offset="0.9295" stop-color="rgb(255,255,255)"/><stop offset="0.9333" stop-color="rgb(255,255,255)"/><stop offset="0.9374" stop-color="rgb(255,255,255)"/><stop offset="0.9412" stop-color="rgb(255,255,255)"/><stop offset="0.9450" stop-color="rgb(255,255,255)"/><stop offset="0.9487" stop-color="rgb(255,255,255)"/><stop offset="0.9529" stop-color="rgb(255,255,255)"/><stop offset="0.9566" stop-color="rgb(255,255,255)"/><stop offset="0.9604" stop-color="rgb(255,255,255)"/><stop offset="0.9642" stop-color="rgb(255,255,255)"/><stop offset="1.0000" stop-color="rgb(255,255,255)"/></linearGradient>
<rect x="402.60" y="108.75" width="11.60" height="265.25" fill="url(#g2_8)"/>
<linearGradient id="g2_9" gradientUnits="userSpaceOnUse" x1="0" y1="108.75" x2="0" y2="374.0"><stop offset="0.0000" stop-color="rgb(209,209,255)"/><stop offset="0.0613" stop-color="rgb(209,209,255)"/><stop offset="0.0650" stop-color="rgb(199,199,255)"/><stop offset="0.1732" stop-color="rgb(199,199,255)"/><stop offset="0.1770" stop-color="rgb(191,191,255)"/><stop offset="0.2743" stop-color="rgb(191,191,255)"/><stop offset="0.2780" stop-color="rgb(196,196,255)"/><stop offset="0.3568" stop-color="rgb(196,196,255)"/><stop offset="0.3606" stop-color="rgb(191,191,255)"/><stop offset="0.4270" stop-color="rgb(191,191,255)"/><stop offset="0.4307" stop-color="rgb(196,196,255)"/><stop offset="0.4948" stop-color="rgb(196,196,255)"/><stop offset="0.4986" stop-color="rgb(204,204,255)"/><stop offset="0.5653" stop-color="rgb(204,204,255)"/><stop offset="0.5691" stop-color="rgb(209,209,255)"/><stop offset="0.6181" stop-color="rgb(209,209,255)"/><stop offset="0.6219" stop-color="rgb(224,224,255)"/><stop offset="0.6803" stop-color="rgb(224,224,255)"/><stop offset="0.6841" stop-color="rgb(217,217,255)"/><stop offset="0.7595" stop-color="rgb(217,217,255)"/><stop offset="0.7632" stop-color="rgb(128,128,255)"/><stop offset="0.8232" stop-color="rgb(128,128,255)"/><stop offset="0.8270" stop-color="rgb(135,135,255)"/><stop offset="0.8620" stop-color="rgb(135,135,255)"/><stop offset="0.8658" stop-color="rgb(224,224,255)"/><stop offset="0.8903" stop-color="rgb(224,224,255)"/><stop offset="0.8941" stop-color="rgb(255,255,255)"/><stop offset="0.9061" stop-color="rgb(255,255,255)"/><stop offset="0.9099" stop-color="rgb(255,255,255)"/><stop offset="0.9140" stop-color="rgb(255,255,255)"/><stop offset="0.9178" stop-color="rgb(255,255,255)"/><stop offset="0.9216" stop-color="rgb(255,255,255)"/><stop offset="0.9254" stop-color="rgb(255,255,255)"/><stop offset="0.9295" stop-color="rgb(255,255,255)"/><stop offset="0.9333" stop-color="rgb(255,255,255)"/><stop offset="0.9374" stop-color="rgb(255,255,255)"/><stop offset="0.9412" stop-color="rgb(255,255,255)"/><stop offset="0.9450" stop-color="rgb(255,255,255)"/><stop offset="0.9487" stop-color="rgb(255,255,255)"/><stop offset="0.9529" stop-color="rgb(255,255,255)"/><stop offset="0.9566" stop-color="rgb(255,255,255)"/><stop offset="0.9604" stop-color="rgb(255,255,255)"/><stop offset="0.9642" stop-color="rgb(255,255,255)"/><stop offset="1.0000" stop-color="rgb(255,255,255)"/></linearGradient>
<rect x="413.60" y="108.75" width="11.60" height="265.25" fill="url(#g2_9)"/>
<linearGradient id="g2_10" gradientUnits="userSpaceOnUse" x1="0" y1="108.75" x2="0" y2="374.0"><stop offset="0.0000" stop-color="rgb(209,209,255)"/><stop offset="0.0613" stop-color="rgb(209,209,255)"/><stop offset="0.0650" stop-color="rgb(201,201,255)"/><stop offset="0.1732" stop-color="rgb(201,201,255)"/><stop offset="0.1770" stop-color="rgb(191,191,255)"/><stop offset="0.2743" stop-color="rgb(191,191,255)"/><stop offset="0.2780" stop-color="rgb(176,176,255)"/><stop offset="0.3568" stop-color="rgb(176,176,255)"/><stop offset="0.3606" stop-color="rgb(168,168,255)"/><stop offset="0.4270" stop-color="rgb(168,168,255)"/><stop offset="0.4307" stop-color="rgb(148,148,255)"/><stop offset="0.4948" stop-color="rgb(148,148,255)"/><stop offset="0.4986" stop-color="rgb(138,138,255)"/><stop offset="0.5653" stop-color="rgb(138,138,255)"/><stop offset="0.5691" stop-color="rgb(135,135,255)"/><stop offset="0.6181" stop-color="rgb(135,135,255)"/><stop offset="0.6219" stop-color="rgb(135,135,255)"/><stop offset="0.6803" stop-color="rgb(135,135,255)"/><stop offset="0.6841" stop-color="rgb(120,120,255)"/><stop offset="0.7595" stop-color="rgb(120,120,255)"/><stop offset="0.7632" stop-color="rgb(128,128,255)"/><stop offset="0.8232" stop-color="rgb(128,128,255)"/><stop offset="0.8270" stop-color="rgb(224,224,255)"/><stop offset="0.8620" stop-color="rgb(224,224,255)"/><stop offset="0.8658" stop-color="rgb(255,255,255)"/><stop offset="0.8903" stop-color="rgb(255,255,255)"/><stop offset="0.8941" stop-color="rgb(255,255,255)"/><stop offset="0.9061" stop-color="rgb(255,255,255)"/><stop offset="0.9099" stop-color="rgb(255,255,255)"/><stop offset="0.9140" stop-color="rgb(255,255,255)"/><stop offset="0.9178" stop-color="rgb(255,255,255)"/><stop offset="0.9216" stop-color="rgb(255,255,255)"/><stop offset="0.9254" stop-color="rgb(255,255,255)"/><stop offset="0.9295" stop-color="rgb(255,255,255)"/><stop offset="0.9333" stop-color="rgb(255,255,255)"/><stop offset="0.9374" stop-color="rgb(255,255,255)"/><stop offset="0.9412" stop-color="rgb(255,255,255)"/><stop offset="0.9450" stop-color="rgb(255,255,255)"/><stop offset="0.9487" stop-color="rgb(255,255,255)"/><stop offset="0.9529" stop-color="rgb(255,255,255)"/><stop offset="0.9566" stop-color="rgb(255,255,255)"/><stop offset="0.9604" stop-color="rgb(255,255,255)"/><stop offset="0.9642" stop-color="rgb(255,255,255)"/><stop offset="1.0000" stop-color="rgb(255,255,255)"/></linearGradient>
<rect x="424.60" y="108.75" width="11.60" height="265.25" fill="url(#g2_10)"/>
<linearGradient id="g2_11" gradientUnits="userSpaceOnUse" x1="0" y1="108.75" x2="0" y2="374.0"><stop offset="0.0000" stop-color="rgb(219,219,255)"/><stop offset="0.0613" stop-color="rgb(219,219,255)"/><stop offset="0.0650" stop-color="rgb(217,217,255)"/><stop offset="0.1732" stop-color="rgb(217,217,255)"/><stop offset="0.1770" stop-color="rgb(201,201,255)"/><stop offset="0.2743" stop-color="rgb(201,201,255)"/><stop offset="0.2780" stop-color="rgb(186,186,255)"/><stop offset="0.3568" stop-color="rgb(186,186,255)"/><stop offset="0.3606" stop-color="rgb(189,189,255)"/><stop offset="0.4270" stop-color="rgb(189,189,255)"/><stop offset="0.4307" stop-color="rgb(156,156,255)"/><stop offset="0.4948" stop-color="rgb(156,156,255)"/><stop offset="0.4986" stop-color="rgb(143,143,255)"/><stop offset="0.5653" stop-color="rgb(143,143,255)"/><stop offset="0.5691" stop-color="rgb(153,153,255)"/><stop offset="0.6181" stop-color="rgb(153,153,255)"/><stop offset="0.6219" stop-color="rgb(133,133,255)"/><stop offset="0.6803" stop-color="rgb(133,133,255)"/><stop offset="0.6841" stop-color="rgb(145,145,255)"/><stop offset="0.7595" stop-color="rgb(145,145,255)"/><stop offset="0.7632" stop-color="rgb(224,224,255)"/><stop offset="0.8232" stop-color="rgb(224,224,255)"/><stop offset="0.8270" stop-color="rgb(255,255,255)"/><stop offset="0.8620" stop-color="rgb(255,255,255)"/><stop offset="0.8658" stop-color="rgb(255,255,255)"/><stop offset="0.8903" stop-color="rgb(255,255,255)"/><stop offset="0.8941" stop-color="rgb(255,255,255)"/><stop offset="0.9061" stop-color="rgb(255,255,255)"/><stop offset="0.9099" stop-color="rgb(255,255,255)"/><stop offset="0.9140" stop-color="rgb(255,255,255)"/><stop offset="0.9178" stop-color="rgb(255,255,255)"/><stop offset="0.9216" stop-color="rgb(255,255,255)"/><stop offset="0.9254" stop-color="rgb(255,255,255)"/><stop offset="0.9295" stop-color="rgb(255,255,255)"/><stop offset="0.9333" stop-color="rgb(255,255,255)"/><stop offset="0.9374" stop-color="rgb(255,255,255)"/><stop offset="0.9412" stop-color="rgb(255,255,255)"/><stop offset="0.9450" stop-color="rgb(255,255,255)"/><stop offset="0.9487" stop-color="rgb(255,255,255)"/><stop offset="0.9529" stop-color="rgb(255,255,255)"/><stop offset="0.9566" stop-color="rgb(255,255,255)"/><stop offset="0.9604" stop-color="rgb(255,255,255)"/><stop offset="0.9642" stop-color="rgb(255,255,255)"/><stop offset="1.0000" stop-color="rgb(255,255,255)"/></linearGradient>
<rect x="435.60" y="108.75" width="11.60" height="265.25" fill="url(#g2_11)"/>
<linearGradient id="g2_12" gradientUnits="userSpaceOnUse" x1="0" y1="108.75" x2="0" y2="374.0"><stop offset="0.0000" stop-color="rgb(224,224,255)"/><stop offset="0.0613" stop-color="rgb(224,224,255)"/><stop offset="0.0650" stop-color="rgb(219,219,255)"/><stop offset="0.1732" stop-color="rgb(219,219,255)"/><stop offset="0.1770" stop-color="rgb(217,217,255)"/><stop offset="0.2743" stop-color="rgb(217,217,255)"/><stop offset="0.2780" stop-color="rgb(217,217,255)"/><stop offset="0.3568" stop-color="rgb(217,217,255)"/><stop offset="0.3606" stop-color="rgb(217,217,255)"/><stop offset="0.4270" stop-color="rgb(217,217,255)"/><stop offset="0.4307" stop-color="rgb(219,219,255)"/><stop offset="0.4948" stop-color="rgb(219,219,255)"/><stop offset="0.4986" stop-color="rgb(219,219,255)"/><stop offset="0.5653" stop-color="rgb(219,219,255)"/><stop offset="0.5691" stop-color="rgb(224,224,255)"/><stop offset="0.6181" stop-color="rgb(224,224,255)"/><stop offset="0.6219" stop-color="rgb(227,227,255)"/><stop offset="0.6803" stop-color="rgb(227,227,255)"/><stop offset="0.6841" stop-color="rgb(230,230,255)"/><stop offset="0.7595" stop-color="rgb(230,230,255)"/><stop offset="0.7632" stop-color="rgb(255,255,255)"/><stop offset="0.8232" stop-color="rgb(255,255,255)"/><stop offset="0.8270" stop-color="rgb(255,255,255)"/><stop offset="0.8620" stop-color="rgb(255,255,255)"/><stop offset="0.8658" stop-color="rgb(255,255,255)"/><stop offset="0.8903" stop-color="rgb(255,255,255)"/><stop offset="0.8941" stop-color="rgb(255,255,255)"/><stop offset="0.9061" stop-color="rgb(255,255,255)"/><stop offset="0.9099" stop-color="rgb(255,255,255)"/><stop offset="0.9140" stop-color="rgb(255,255,255)"/><stop offset="0.9178" stop-color="rgb(255,255,255)"/><stop offset="0.9216" stop-color="rgb(255,255,255)"/><stop offset="0.9254" stop-color="rgb(255,255,255)"/><stop offset="0.9295" stop-color="rgb(255,255,255)"/><stop offset="0.9333" stop-color="rgb(255,255,255)"/><stop offset="0.9374" stop-color="rgb(255,255,255)"/><stop offset="0.9412" stop-color="rgb(255,255,255)"/><stop offset="0.9450" stop-color="rgb(255,255,255)"/><stop offset="0.9487" stop-color="rgb(255,255,255)"/><stop offset="0.9529" stop-color="rgb(255,255,255)"/><stop offset="0.9566" stop-color="rgb(255,255,255)"/><stop offset="0.9604" stop-color="rgb(255,255,255)"/><stop offset="0.9642" stop-color="rgb(255,255,255)"/><stop offset="1.0000" stop-color="rgb(255,255,255)"/></linearGradient>
<rect x="446.60" y="108.75" width="11.00" height="265.25" fill="url(#g2_12)"/>
<rect x="325.30" y="108.9" width="132.70" height="265.30" fill="none" stroke="#505050" stroke-width="1.2" rx="1"/>
<text x="339.07" y="386.00" font-size="10.9">2</text>
<text x="372.07" y="386.00" font-size="10.9">5</text>
<text x="405.07" y="386.00" font-size="10.9">8</text>
<path d="M478,0L478,1170L140,959L140,1180L493,1409L759,1409L759,0Z" transform="translate(435.04,386.00) scale(0.005322,-0.005322)" fill="#000" stroke="#000" stroke-width="56.4"/><path d="M478,0L478,1170L140,959L140,1180L493,1409L759,1409L759,0Z" transform="translate(441.10,386.00) scale(0.005322,-0.005322)" fill="#000" stroke="#000" stroke-width="56.4"/>
<text x="530.4" y="12.1" font-size="11" text-anchor="middle">Iron</text>
<rect x="490.80" y="96.99" width="6.60" height="3.01" fill="#0000ff" stroke="#00008a" stroke-width="0.5"/>
<rect x="497.40" y="93.19" width="6.60" height="6.81" fill="#0000ff" stroke="#00008a" stroke-width="0.5"/>
<rect x="504.00" y="80.44" width="6.60" height="19.56" fill="#0000ff" stroke="#00008a" stroke-width="0.5"/>
<rect x="510.60" y="75.29" width="6.60" height="24.71" fill="#0000ff" stroke="#00008a" stroke-width="0.5"/>
<rect x="517.20" y="99.21" width="6.60" height="0.79" fill="#0000ff" stroke="#00008a" stroke-width="0.5"/>
<rect x="523.80" y="98.97" width="6.60" height="1.03" fill="#0000ff" stroke="#00008a" stroke-width="0.5"/>
<rect x="530.40" y="95.56" width="6.60" height="4.44" fill="#0000ff" stroke="#00008a" stroke-width="0.5"/>
<rect x="537.00" y="95.80" width="6.60" height="4.20" fill="#0000ff" stroke="#00008a" stroke-width="0.5"/>
<rect x="543.60" y="99.52" width="6.60" height="0.48" fill="#0000ff" stroke="#00008a" stroke-width="0.5"/>
<rect x="550.20" y="98.57" width="6.60" height="1.43" fill="#0000ff" stroke="#00008a" stroke-width="0.5"/>
<rect x="556.80" y="97.39" width="6.60" height="2.61" fill="#0000ff" stroke="#00008a" stroke-width="0.5"/>
<rect x="563.40" y="93.35" width="6.60" height="6.65" fill="#0000ff" stroke="#00008a" stroke-width="0.5"/>
<rect x="464.4" y="20.8" width="132.0" height="79.2" fill="none" stroke="#000" stroke-width="1.25" rx="1.2"/>
<line x1="494.10" y1="20.8" x2="494.10" y2="22.400000000000002" stroke="#000" stroke-width="0.9"/>
<line x1="494.10" y1="100.0" x2="494.10" y2="98.4" stroke="#000" stroke-width="0.9"/>
<line x1="527.10" y1="20.8" x2="527.10" y2="22.400000000000002" stroke="#000" stroke-width="0.9"/>
<line x1="527.10" y1="100.0" x2="527.10" y2="98.4" stroke="#000" stroke-width="0.9"/>
<line x1="560.10" y1="20.8" x2="560.10" y2="22.400000000000002" stroke="#000" stroke-width="0.9"/>
<line x1="560.10" y1="100.0" x2="560.10" y2="98.4" stroke="#000" stroke-width="0.9"/>
<line x1="593.10" y1="20.8" x2="593.10" y2="22.400000000000002" stroke="#000" stroke-width="0.9"/>
<line x1="593.10" y1="100.0" x2="593.10" y2="98.4" stroke="#000" stroke-width="0.9"/>
<line x1="464.4" y1="80.20" x2="466.0" y2="80.20" stroke="#000" stroke-width="0.9"/>
<line x1="596.4" y1="80.20" x2="594.8" y2="80.20" stroke="#000" stroke-width="0.9"/>
<line x1="464.4" y1="60.40" x2="466.0" y2="60.40" stroke="#000" stroke-width="0.9"/>
<line x1="596.4" y1="60.40" x2="594.8" y2="60.40" stroke="#000" stroke-width="0.9"/>
<line x1="464.4" y1="40.60" x2="466.0" y2="40.60" stroke="#000" stroke-width="0.9"/>
<line x1="596.4" y1="40.60" x2="594.8" y2="40.60" stroke="#000" stroke-width="0.9"/>
<linearGradient id="g3_3" gradientUnits="userSpaceOnUse" x1="0" y1="108.75" x2="0" y2="374.0"><stop offset="0.0000" stop-color="rgb(255,255,255)"/><stop offset="0.0650" stop-color="rgb(255,255,255)"/><stop offset="0.0688" stop-color="rgb(255,255,255)"/><stop offset="0.1589" stop-color="rgb(255,255,255)"/><stop offset="0.1627" stop-color="rgb(255,255,255)"/><stop offset="0.2418" stop-color="rgb(255,255,255)"/><stop offset="0.2456" stop-color="rgb(255,255,255)"/><stop offset="0.3263" stop-color="rgb(255,255,255)"/><stop offset="0.3301" stop-color="rgb(255,255,255)"/><stop offset="0.3813" stop-color="rgb(255,255,255)"/><stop offset="0.3851" stop-color="rgb(255,255,255)"/><stop offset="0.4364" stop-color="rgb(255,255,255)"/><stop offset="0.4402" stop-color="rgb(255,255,255)"/><stop offset="0.5125" stop-color="rgb(255,255,255)"/><stop offset="0.5163" stop-color="rgb(255,255,255)"/><stop offset="0.5928" stop-color="rgb(255,255,255)"/><stop offset="0.5966" stop-color="rgb(255,255,255)"/><stop offset="0.6483" stop-color="rgb(255,255,255)"/><stop offset="0.6520" stop-color="rgb(255,255,255)"/><stop offset="0.6837" stop-color="rgb(255,255,255)"/><stop offset="0.6875" stop-color="rgb(255,255,255)"/><stop offset="0.7161" stop-color="rgb(255,255,255)"/><stop offset="0.7199" stop-color="rgb(255,255,255)"/><stop offset="0.7757" stop-color="rgb(255,255,255)"/><stop offset="0.7795" stop-color="rgb(255,255,255)"/><stop offset="0.7972" stop-color="rgb(255,255,255)"/><stop offset="0.8009" stop-color="rgb(255,255,255)"/><stop offset="0.8277" stop-color="rgb(255,255,255)"/><stop offset="0.8315" stop-color="rgb(255,255,255)"/><stop offset="0.8699" stop-color="rgb(255,255,255)"/><stop offset="0.8737" stop-color="rgb(255,255,255)"/><stop offset="0.9008" stop-color="rgb(255,255,255)"/><stop offset="0.9046" stop-color="rgb(255,255,255)"/><stop offset="0.9344" stop-color="rgb(255,255,255)"/><stop offset="0.9382" stop-color="rgb(255,255,255)"/><stop offset="0.9533" stop-color="rgb(255,255,255)"/><stop offset="0.9570" stop-color="rgb(255,255,255)"/><stop offset="0.9649" stop-color="rgb(255,255,255)"/><stop offset="0.9687" stop-color="rgb(240,240,255)"/><stop offset="0.9751" stop-color="rgb(240,240,255)"/><stop offset="0.9789" stop-color="rgb(156,156,255)"/><stop offset="1.0000" stop-color="rgb(156,156,255)"/></linearGradient>
<rect x="477.60" y="108.75" width="7.20" height="265.25" fill="url(#g3_3)"/>
<linearGradient id="g3_4" gradientUnits="userSpaceOnUse" x1="0" y1="108.75" x2="0" y2="374.0"><stop offset="0.0000" stop-color="rgb(255,255,255)"/><stop offset="0.0650" stop-color="rgb(255,255,255)"/><stop offset="0.0688" stop-color="rgb(255,255,255)"/><stop offset="0.1589" stop-color="rgb(255,255,255)"/><stop offset="0.1627" stop-color="rgb(255,255,255)"/><stop offset="0.2418" stop-color="rgb(255,255,255)"/><stop offset="0.2456" stop-color="rgb(255,255,255)"/><stop offset="0.3263" stop-color="rgb(255,255,255)"/><stop offset="0.3301" stop-color="rgb(255,255,255)"/><stop offset="0.3813" stop-color="rgb(255,255,255)"/><stop offset="0.3851" stop-color="rgb(255,255,255)"/><stop offset="0.4364" stop-color="rgb(255,255,255)"/><stop offset="0.4402" stop-color="rgb(255,255,255)"/><stop offset="0.5125" stop-color="rgb(255,255,255)"/><stop offset="0.5163" stop-color="rgb(255,255,255)"/><stop offset="0.5928" stop-color="rgb(255,255,255)"/><stop offset="0.5966" stop-color="rgb(255,255,255)"/><stop offset="0.6483" stop-color="rgb(255,255,255)"/><stop offset="0.6520" stop-color="rgb(255,255,255)"/><stop offset="0.6837" stop-color="rgb(255,255,255)"/><stop offset="0.6875" stop-color="rgb(255,255,255)"/><stop offset="0.7161" stop-color="rgb(255,255,255)"/><stop offset="0.7199" stop-color="rgb(255,255,255)"/><stop offset="0.7757" stop-color="rgb(255,255,255)"/><stop offset="0.7795" stop-color="rgb(255,255,255)"/><stop offset="0.7972" stop-color="rgb(255,255,255)"/><stop offset="0.8009" stop-color="rgb(255,255,255)"/><stop offset="0.8277" stop-color="rgb(255,255,255)"/><stop offset="0.8315" stop-color="rgb(255,255,255)"/><stop offset="0.8699" stop-color="rgb(255,255,255)"/><stop offset="0.8737" stop-color="rgb(255,255,255)"/><stop offset="0.9008" stop-color="rgb(255,255,255)"/><stop offset="0.9046" stop-color="rgb(255,255,255)"/><stop offset="0.9344" stop-color="rgb(255,255,255)"/><stop offset="0.9382" stop-color="rgb(255,255,255)"/><stop offset="0.9533" stop-color="rgb(255,255,255)"/><stop offset="0.9570" stop-color="rgb(230,230,255)"/><stop offset="0.9649" stop-color="rgb(230,230,255)"/><stop offset="0.9687" stop-color="rgb(33,33,255)"/><stop offset="0.9751" stop-color="rgb(33,33,255)"/><stop offset="0.9789" stop-color="rgb(0,0,255)"/><stop offset="1.0000" stop-color="rgb(0,0,255)"/></linearGradient>
<rect x="484.20" y="108.75" width="7.20" height="265.25" fill="url(#g3_4)"/>
<linearGradient id="g3_5" gradientUnits="userSpaceOnUse" x1="0" y1="108.75" x2="0" y2="374.0"><stop offset="0.0000" stop-color="rgb(245,245,255)"/><stop offset="0.0650" stop-color="rgb(245,245,255)"/><stop offset="0.0688" stop-color="rgb(255,255,255)"/><stop offset="0.1589" stop-color="rgb(255,255,255)"/><stop offset="0.1627" stop-color="rgb(255,255,255)"/><stop offset="0.2418" stop-color="rgb(255,255,255)"/><stop offset="0.2456" stop-color="rgb(255,255,255)"/><stop offset="0.3263" stop-color="rgb(255,255,255)"/><stop offset="0.3301" stop-color="rgb(255,255,255)"/><stop offset="0.3813" stop-color="rgb(255,255,255)"/><stop offset="0.3851" stop-color="rgb(255,255,255)"/><stop offset="0.4364" stop-color="rgb(255,255,255)"/><stop offset="0.4402" stop-color="rgb(255,255,255)"/><stop offset="0.5125" stop-color="rgb(255,255,255)"/><stop offset="0.5163" stop-color="rgb(255,255,255)"/><stop offset="0.5928" stop-color="rgb(255,255,255)"/><stop offset="0.5966" stop-color="rgb(255,255,255)"/><stop offset="0.6483" stop-color="rgb(255,255,255)"/><stop offset="0.6520" stop-color="rgb(255,255,255)"/><stop offset="0.6837" stop-color="rgb(255,255,255)"/><stop offset="0.6875" stop-color="rgb(255,255,255)"/><stop offset="0.7161" stop-color="rgb(255,255,255)"/><stop offset="0.7199" stop-color="rgb(255,255,255)"/><stop offset="0.7757" stop-color="rgb(255,255,255)"/><stop offset="0.7795" stop-color="rgb(255,255,255)"/><stop offset="0.7972" stop-color="rgb(255,255,255)"/><stop offset="0.8009" stop-color="rgb(255,255,255)"/><stop offset="0.8277" stop-color="rgb(255,255,255)"/><stop offset="0.8315" stop-color="rgb(255,255,255)"/><stop offset="0.8699" stop-color="rgb(255,255,255)"/><stop offset="0.8737" stop-color="rgb(255,255,255)"/><stop offset="0.9008" stop-color="rgb(255,255,255)"/><stop offset="0.9046" stop-color="rgb(255,255,255)"/><stop offset="0.9344" stop-color="rgb(255,255,255)"/><stop offset="0.9382" stop-color="rgb(240,240,255)"/><stop offset="0.9533" stop-color="rgb(240,240,255)"/><stop offset="0.9570" stop-color="rgb(71,71,255)"/><stop offset="0.9649" stop-color="rgb(71,71,255)"/><stop offset="0.9687" stop-color="rgb(89,89,255)"/><stop offset="0.9751" stop-color="rgb(89,89,255)"/><stop offset="0.9789" stop-color="rgb(191,191,255)"/><stop offset="1.0000" stop-color="rgb(191,191,255)"/></linearGradient>
<rect x="490.80" y="108.75" width="7.20" height="265.25" fill="url(#g3_5)"/>
<linearGradient id="g3_6" gradientUnits="userSpaceOnUse" x1="0" y1="108.75" x2="0" y2="374.0"><stop offset="0.0000" stop-color="rgb(219,219,255)"/><stop offset="0.0650" stop-color="rgb(219,219,255)"/><stop offset="0.0688" stop-color="rgb(230,230,255)"/><stop offset="0.1589" stop-color="rgb(230,230,255)"/><stop offset="0.1627" stop-color="rgb(240,240,255)"/><stop offset="0.2418" stop-color="rgb(240,240,255)"/><stop offset="0.2456" stop-color="rgb(255,255,255)"/><stop offset="0.3263" stop-color="rgb(255,255,255)"/><stop offset="0.3301" stop-color="rgb(255,255,255)"/><stop offset="0.3813" stop-color="rgb(255,255,255)"/><stop offset="0.3851" stop-color="rgb(255,255,255)"/><stop offset="0.4364" stop-color="rgb(255,255,255)"/><stop offset="0.4402" stop-color="rgb(255,255,255)"/><stop offset="0.5125" stop-color="rgb(255,255,255)"/><stop offset="0.5163" stop-color="rgb(255,255,255)"/><stop offset="0.5928" stop-color="rgb(255,255,255)"/><stop offset="0.5966" stop-color="rgb(255,255,255)"/><stop offset="0.6483" stop-color="rgb(255,255,255)"/><stop offset="0.6520" stop-color="rgb(255,255,255)"/><stop offset="0.6837" stop-color="rgb(255,255,255)"/><stop offset="0.6875" stop-color="rgb(255,255,255)"/><stop offset="0.7161" stop-color="rgb(255,255,255)"/><stop offset="0.7199" stop-color="rgb(255,255,255)"/><stop offset="0.7757" stop-color="rgb(255,255,255)"/><stop offset="0.7795" stop-color="rgb(255,255,255)"/><stop offset="0.7972" stop-color="rgb(255,255,255)"/><stop offset="0.8009" stop-color="rgb(255,255,255)"/><stop offset="0.8277" stop-color="rgb(255,255,255)"/><stop offset="0.8315" stop-color="rgb(255,255,255)"/><stop offset="0.8699" stop-color="rgb(255,255,255)"/><stop offset="0.8737" stop-color="rgb(255,255,255)"/><stop offset="0.9008" stop-color="rgb(255,255,255)"/><stop offset="0.9046" stop-color="rgb(255,255,255)"/><stop offset="0.9344" stop-color="rgb(255,255,255)"/><stop offset="0.9382" stop-color="rgb(128,128,255)"/><stop offset="0.9533" stop-color="rgb(128,128,255)"/><stop offset="0.9570" stop-color="rgb(82,82,255)"/><stop offset="0.9649" stop-color="rgb(82,82,255)"/><stop offset="0.9687" stop-color="rgb(232,232,255)"/><stop offset="0.9751" stop-color="rgb(232,232,255)"/><stop offset="0.9789" stop-color="rgb(255,255,255)"/><stop offset="1.0000" stop-color="rgb(255,255,255)"/></linearGradient>
<rect x="497.40" y="108.75" width="7.20" height="265.25" fill="url(#g3_6)"/>
<linearGradient id="g3_7" gradientUnits="userSpaceOnUse" x1="0" y1="108.75" x2="0" y2="374.0"><stop offset="0.0000" stop-color="rgb(145,145,255)"/><stop offset="0.0650" stop-color="rgb(145,145,255)"/><stop offset="0.0688" stop-color="rgb(145,145,255)"/><stop offset="0.1589" stop-color="rgb(145,145,255)"/><stop offset="0.1627" stop-color="rgb(176,176,255)"/><stop offset="0.2418" stop-color="rgb(176,176,255)"/><stop offset="0.2456" stop-color="rgb(230,230,255)"/><stop offset="0.3263" stop-color="rgb(230,230,255)"/><stop offset="0.3301" stop-color="rgb(237,237,255)"/><stop offset="0.3813" stop-color="rgb(237,237,255)"/><stop offset="0.3851" stop-color="rgb(255,255,255)"/><stop offset="0.4364" stop-color="rgb(255,255,255)"/><stop offset="0.4402" stop-color="rgb(255,255,255)"/><stop offset="0.5125" stop-color="rgb(255,255,255)"/><stop offset="0.5163" stop-color="rgb(255,255,255)"/><stop offset="0.5928" stop-color="rgb(255,255,255)"/><stop offset="0.5966" stop-color="rgb(255,255,255)"/><stop offset="0.6483" stop-color="rgb(255,255,255)"/><stop offset="0.6520" stop-color="rgb(255,255,255)"/><stop offset="0.6837" stop-color="rgb(255,255,255)"/><stop offset="0.6875" stop-color="rgb(255,255,255)"/><stop offset="0.7161" stop-color="rgb(255,255,255)"/><stop offset="0.7199" stop-color="rgb(255,255,255)"/><stop offset="0.7757" stop-color="rgb(255,255,255)"/><stop offset="0.7795" stop-color="rgb(255,255,255)"/><stop offset="0.7972" stop-color="rgb(255,255,255)"/><stop offset="0.8009" stop-color="rgb(255,255,255)"/><stop offset="0.8277" stop-color="rgb(255,255,255)"/><stop offset="0.8315" stop-color="rgb(255,255,255)"/><stop offset="0.8699" stop-color="rgb(255,255,255)"/><stop offset="0.8737" stop-color="rgb(255,255,255)"/><stop offset="0.9008" stop-color="rgb(255,255,255)"/><stop offset="0.9046" stop-color="rgb(224,224,255)"/><stop offset="0.9344" stop-color="rgb(224,224,255)"/><stop offset="0.9382" stop-color="rgb(77,77,255)"/><stop offset="0.9533" stop-color="rgb(77,77,255)"/><stop offset="0.9570" stop-color="rgb(224,224,255)"/><stop offset="0.9649" stop-color="rgb(224,224,255)"/><stop offset="0.9687" stop-color="rgb(255,255,255)"/><stop offset="0.9751" stop-color="rgb(255,255,255)"/><stop offset="0.9789" stop-color="rgb(255,255,255)"/><stop offset="1.0000" stop-color="rgb(255,255,255)"/></linearGradient>
<rect x="504.00" y="108.75" width="7.20" height="265.25" fill="url(#g3_7)"/>
<linearGradient id="g3_8" gradientUnits="userSpaceOnUse" x1="0" y1="108.75" x2="0" y2="374.0"><stop offset="0.0000" stop-color="rgb(105,105,255)"/><stop offset="0.0650" stop-color="rgb(105,105,255)"/><stop offset="0.0688" stop-color="rgb(105,105,255)"/><stop offset="0.1589" stop-color="rgb(105,105,255)"/><stop offset="0.1627" stop-color="rgb(112,112,255)"/><stop offset="0.2418" stop-color="rgb(112,112,255)"/><stop offset="0.2456" stop-color="rgb(128,128,255)"/><stop offset="0.3263" stop-color="rgb(128,128,255)"/><stop offset="0.3301" stop-color="rgb(176,176,255)"/><stop offset="0.3813" stop-color="rgb(176,176,255)"/><stop offset="0.3851" stop-color="rgb(209,209,255)"/><stop offset="0.4364" stop-color="rgb(209,209,255)"/><stop offset="0.4402" stop-color="rgb(245,245,255)"/><stop offset="0.5125" stop-color="rgb(245,245,255)"/><stop offset="0.5163" stop-color="rgb(255,255,255)"/><stop offset="0.5928" stop-color="rgb(255,255,255)"/><stop offset="0.5966" stop-color="rgb(255,255,255)"/><stop offset="0.6483" stop-color="rgb(255,255,255)"/><stop offset="0.6520" stop-color="rgb(255,255,255)"/><stop offset="0.6837" stop-color="rgb(255,255,255)"/><stop offset="0.6875" stop-color="rgb(255,255,255)"/><stop offset="0.7161" stop-color="rgb(255,255,255)"/><stop offset="0.7199" stop-color="rgb(255,255,255)"/><stop offset="0.7757" stop-color="rgb(255,255,255)"/><stop offset="0.7795" stop-color="rgb(255,255,255)"/><stop offset="0.7972" stop-color="rgb(255,255,255)"/><stop offset="0.8009" stop-color="rgb(255,255,255)"/><stop offset="0.8277" stop-color="rgb(255,255,255)"/><stop offset="0.8315" stop-color="rgb(255,255,255)"/><stop offset="0.8699" stop-color="rgb(255,255,255)"/><stop offset="0.8737" stop-color="rgb(209,209,255)"/><stop offset="0.9008" stop-color="rgb(209,209,255)"/><stop offset="0.9046" stop-color="rgb(0,0,255)"/><stop offset="0.9344" stop-color="rgb(0,0,255)"/><stop offset="0.9382" stop-color="rgb(145,145,255)"/><stop offset="0.9533" stop-color="rgb(145,145,255)"/><stop offset="0.9570" stop-color="rgb(255,255,255)"/><stop offset="0.9649" stop-color="rgb(255,255,255)"/><stop offset="0.9687" stop-color="rgb(255,255,255)"/><stop offset="0.9751" stop-color="rgb(255,255,255)"/><stop offset="0.9789" stop-color="rgb(255,255,255)"/><stop offset="1.0000" stop-color="rgb(255,255,255)"/></linearGradient>
<rect x="510.60" y="108.75" width="7.20" height="265.25" fill="url(#g3_8)"/>
<linearGradient id="g3_9" gradientUnits="userSpaceOnUse" x1="0" y1="108.75" x2="0" y2="374.0"><stop offset="0.0000" stop-color="rgb(237,237,255)"/><stop offset="0.0650" stop-color="rgb(237,237,255)"/><stop offset="0.0688" stop-color="rgb(230,230,255)"/><stop offset="0.1589" stop-color="rgb(230,230,255)"/><stop offset="0.1627" stop-color="rgb(214,214,255)"/><stop offset="0.2418" stop-color="rgb(214,214,255)"/><stop offset="0.2456" stop-color="rgb(199,199,255)"/><stop offset="0.3263" stop-color="rgb(199,199,255)"/><stop offset="0.3301" stop-color="rgb(207,207,255)"/><stop offset="0.3813" stop-color="rgb(207,207,255)"/><stop offset="0.3851" stop-color="rgb(209,209,255)"/><stop offset="0.4364" stop-color="rgb(209,209,255)"/><stop offset="0.4402" stop-color="rgb(240,240,255)"/><stop offset="0.5125" stop-color="rgb(240,240,255)"/><stop offset="0.5163" stop-color="rgb(255,255,255)"/><stop offset="0.5928" stop-color="rgb(255,255,255)"/><stop offset="0.5966" stop-color="rgb(255,255,255)"/><stop offset="0.6483" stop-color="rgb(255,255,255)"/><stop offset="0.6520" stop-color="rgb(255,255,255)"/><stop offset="0.6837" stop-color="rgb(255,255,255)"/><stop offset="0.6875" stop-color="rgb(255,255,255)"/><stop offset="0.7161" stop-color="rgb(255,255,255)"/><stop offset="0.7199" stop-color="rgb(255,255,255)"/><stop offset="0.7757" stop-color="rgb(255,255,255)"/><stop offset="0.7795" stop-color="rgb(255,255,255)"/><stop offset="0.7972" stop-color="rgb(255,255,255)"/><stop offset="0.8009" stop-color="rgb(255,255,255)"/><stop offset="0.8277" stop-color="rgb(255,255,255)"/><stop offset="0.8315" stop-color="rgb(240,240,255)"/><stop offset="0.8699" stop-color="rgb(240,240,255)"/><stop offset="0.8737" stop-color="rgb(112,112,255)"/><stop offset="0.9008" stop-color="rgb(112,112,255)"/><stop offset="0.9046" stop-color="rgb(145,145,255)"/><stop offset="0.9344" stop-color="rgb(145,145,255)"/><stop offset="0.9382" stop-color="rgb(255,255,255)"/><stop offset="0.9533" stop-color="rgb(255,255,255)"/><stop offset="0.9570" stop-color="rgb(255,255,255)"/><stop offset="0.9649" stop-color="rgb(255,255,255)"/><stop offset="0.9687" stop-color="rgb(255,255,255)"/><stop offset="0.9751" stop-color="rgb(255,255,255)"/><stop offset="0.9789" stop-color="rgb(255,255,255)"/><stop offset="1.0000" stop-color="rgb(255,255,255)"/></linearGradient>
<rect x="517.20" y="108.75" width="7.20" height="265.25" fill="url(#g3_9)"/>
<linearGradient id="g3_10" gradientUnits="userSpaceOnUse" x1="0" y1="108.75" x2="0" y2="374.0"><stop offset="0.0000" stop-color="rgb(237,237,255)"/><stop offset="0.0650" stop-color="rgb(237,237,255)"/><stop offset="0.0688" stop-color="rgb(224,224,255)"/><stop offset="0.1589" stop-color="rgb(224,224,255)"/><stop offset="0.1627" stop-color="rgb(214,214,255)"/><stop offset="0.2418" stop-color="rgb(214,214,255)"/><stop offset="0.2456" stop-color="rgb(199,199,255)"/><stop offset="0.3263" stop-color="rgb(199,199,255)"/><stop offset="0.3301" stop-color="rgb(184,184,255)"/><stop offset="0.3813" stop-color="rgb(184,184,255)"/><stop offset="0.3851" stop-color="rgb(191,191,255)"/><stop offset="0.4364" stop-color="rgb(191,191,255)"/><stop offset="0.4402" stop-color="rgb(209,209,255)"/><stop offset="0.5125" stop-color="rgb(209,209,255)"/><stop offset="0.5163" stop-color="rgb(245,245,255)"/><stop offset="0.5928" stop-color="rgb(245,245,255)"/><stop offset="0.5966" stop-color="rgb(255,255,255)"/><stop offset="0.6483" stop-color="rgb(255,255,255)"/><stop offset="0.6520" stop-color="rgb(255,255,255)"/><stop offset="0.6837" stop-color="rgb(255,255,255)"/><stop offset="0.6875" stop-color="rgb(255,255,255)"/><stop offset="0.7161" stop-color="rgb(255,255,255)"/><stop offset="0.7199" stop-color="rgb(255,255,255)"/><stop offset="0.7757" stop-color="rgb(255,255,255)"/><stop offset="0.7795" stop-color="rgb(255,255,255)"/><stop offset="0.7972" stop-color="rgb(255,255,255)"/><stop offset="0.8009" stop-color="rgb(255,255,255)"/><stop offset="0.8277" stop-color="rgb(255,255,255)"/><stop offset="0.8315" stop-color="rgb(168,168,255)"/><stop offset="0.8699" stop-color="rgb(168,168,255)"/><stop offset="0.8737" stop-color="rgb(112,112,255)"/><stop offset="0.9008" stop-color="rgb(112,112,255)"/><stop offset="0.9046" stop-color="rgb(245,245,255)"/><stop offset="0.9344" stop-color="rgb(245,245,255)"/><stop offset="0.9382" stop-color="rgb(255,255,255)"/><stop offset="0.9533" stop-color="rgb(255,255,255)"/><stop offset="0.9570" stop-color="rgb(255,255,255)"/><stop offset="0.9649" stop-color="rgb(255,255,255)"/><stop offset="0.9687" stop-color="rgb(255,255,255)"/><stop offset="0.9751" stop-color="rgb(255,255,255)"/><stop offset="0.9789" stop-color="rgb(255,255,255)"/><stop offset="1.0000" stop-color="rgb(255,255,255)"/></linearGradient>
<rect x="523.80" y="108.75" width="7.20" height="265.25" fill="url(#g3_10)"/>
<linearGradient id="g3_11" gradientUnits="userSpaceOnUse" x1="0" y1="108.75" x2="0" y2="374.0"><stop offset="0.0000" stop-color="rgb(219,219,255)"/><stop offset="0.0650" stop-color="rgb(219,219,255)"/><stop offset="0.0688" stop-color="rgb(224,224,255)"/><stop offset="0.1589" stop-color="rgb(224,224,255)"/><stop offset="0.1627" stop-color="rgb(219,219,255)"/><stop offset="0.2418" stop-color="rgb(219,219,255)"/><stop offset="0.2456" stop-color="rgb(209,209,255)"/><stop offset="0.3263" stop-color="rgb(209,209,255)"/><stop offset="0.3301" stop-color="rgb(191,191,255)"/><stop offset="0.3813" stop-color="rgb(191,191,255)"/><stop offset="0.3851" stop-color="rgb(168,168,255)"/><stop offset="0.4364" stop-color="rgb(168,168,255)"/><stop offset="0.4402" stop-color="rgb(168,168,255)"/><stop offset="0.5125" stop-color="rgb(168,168,255)"/><stop offset="0.5163" stop-color="rgb(219,219,255)"/><stop offset="0.5928" stop-color="rgb(219,219,255)"/><stop offset="0.5966" stop-color="rgb(240,240,255)"/><stop offset="0.6483" stop-color="rgb(240,240,255)"/><stop offset="0.6520" stop-color="rgb(255,255,255)"/><stop offset="0.6837" stop-color="rgb(255,255,255)"/><stop offset="0.6875" stop-color="rgb(255,255,255)"/><stop offset="0.7161" stop-color="rgb(255,255,255)"/><stop offset="0.7199" stop-color="rgb(255,255,255)"/><stop offset="0.7757" stop-color="rgb(255,255,255)"/><stop offset="0.7795" stop-color="rgb(255,255,255)"/><stop offset="0.7972" stop-color="rgb(255,255,255)"/><stop offset="0.8009" stop-color="rgb(232,232,255)"/><stop offset="0.8277" stop-color="rgb(232,232,255)"/><stop offset="0.8315" stop-color="rgb(112,112,255)"/><stop offset="0.8699" stop-color="rgb(112,112,255)"/><stop offset="0.8737" stop-color="rgb(168,168,255)"/><stop offset="0.9008" stop-color="rgb(168,168,255)"/><stop offset="0.9046" stop-color="rgb(255,255,255)"/><stop offset="0.9344" stop-color="rgb(255,255,255)"/><stop offset="0.9382" stop-color="rgb(255,255,255)"/><stop offset="0.9533" stop-color="rgb(255,255,255)"/><stop offset="0.9570" stop-color="rgb(255,255,255)"/><stop offset="0.9649" stop-color="rgb(255,255,255)"/><stop offset="0.9687" stop-color="rgb(255,255,255)"/><stop offset="0.9751" stop-color="rgb(255,255,255)"/><stop offset="0.9789" stop-color="rgb(255,255,255)"/><stop offset="1.0000" stop-color="rgb(255,255,255)"/></linearGradient>
<rect x="530.40" y="108.75" width="7.20" height="265.25" fill="url(#g3_11)"/>
<linearGradient id="g3_12" gradientUnits="userSpaceOnUse" x1="0" y1="108.75" x2="0" y2="374.0"><stop offset="0.0000" stop-color="rgb(224,224,255)"/><stop offset="0.0650" stop-color="rgb(224,224,255)"/><stop offset="0.0688" stop-color="rgb(240,240,255)"/><stop offset="0.1589" stop-color="rgb(240,240,255)"/><stop offset="0.1627" stop-color="rgb(240,240,255)"/><stop offset="0.2418" stop-color="rgb(240,240,255)"/><stop offset="0.2456" stop-color="rgb(230,230,255)"/><stop offset="0.3263" stop-color="rgb(230,230,255)"/><stop offset="0.3301" stop-color="rgb(209,209,255)"/><stop offset="0.3813" stop-color="rgb(209,209,255)"/><stop offset="0.3851" stop-color="rgb(184,184,255)"/><stop offset="0.4364" stop-color="rgb(184,184,255)"/><stop offset="0.4402" stop-color="rgb(156,156,255)"/><stop offset="0.5125" stop-color="rgb(156,156,255)"/><stop offset="0.5163" stop-color="rgb(176,176,255)"/><stop offset="0.5928" stop-color="rgb(176,176,255)"/><stop offset="0.5966" stop-color="rgb(214,214,255)"/><stop offset="0.6483" stop-color="rgb(214,214,255)"/><stop offset="0.6520" stop-color="rgb(237,237,255)"/><stop offset="0.6837" stop-color="rgb(237,237,255)"/><stop offset="0.6875" stop-color="rgb(237,237,255)"/><stop offset="0.7161" stop-color="rgb(237,237,255)"/><stop offset="0.7199" stop-color="rgb(245,245,255)"/><stop offset="0.7757" stop-color="rgb(245,245,255)"/><stop offset="0.7795" stop-color="rgb(232,232,255)"/><stop offset="0.7972" stop-color="rgb(232,232,255)"/><stop offset="0.8009" stop-color="rgb(145,145,255)"/><stop offset="0.8277" stop-color="rgb(145,145,255)"/><stop offset="0.8315" stop-color="rgb(112,112,255)"/><stop offset="0.8699" stop-color="rgb(112,112,255)"/><stop offset="0.8737" stop-color="rgb(240,240,255)"/><stop offset="0.9008" stop-color="rgb(240,240,255)"/><stop offset="0.9046" stop-color="rgb(255,255,255)"/><stop offset="0.9344" stop-color="rgb(255,255,255)"/><stop offset="0.9382" stop-color="rgb(255,255,255)"/><stop offset="0.9533" stop-color="rgb(255,255,255)"/><stop offset="0.9570" stop-color="rgb(255,255,255)"/><stop offset="0.9649" stop-color="rgb(255,255,255)"/><stop offset="0.9687" stop-color="rgb(255,255,255)"/><stop offset="0.9751" stop-color="rgb(255,255,255)"/><stop offset="0.9789" stop-color="rgb(255,255,255)"/><stop offset="1.0000" stop-color="rgb(255,255,255)"/></linearGradient>
<rect x="537.00" y="108.75" width="7.20" height="265.25" fill="url(#g3_12)"/>
<linearGradient id="g3_13" gradientUnits="userSpaceOnUse" x1="0" y1="108.75" x2="0" y2="374.0"><stop offset="0.0000" stop-color="rgb(255,255,255)"/><stop offset="0.0650" stop-color="rgb(255,255,255)"/><stop offset="0.0688" stop-color="rgb(255,255,255)"/><stop offset="0.1589" stop-color="rgb(255,255,255)"/><stop offset="0.1627" stop-color="rgb(255,255,255)"/><stop offset="0.2418" stop-color="rgb(255,255,255)"/><stop offset="0.2456" stop-color="rgb(245,245,255)"/><stop offset="0.3263" stop-color="rgb(245,245,255)"/><stop offset="0.3301" stop-color="rgb(240,240,255)"/><stop offset="0.3813" stop-color="rgb(240,240,255)"/><stop offset="0.3851" stop-color="rgb(230,230,255)"/><stop offset="0.4364" stop-color="rgb(230,230,255)"/><stop offset="0.4402" stop-color="rgb(209,209,255)"/><stop offset="0.5125" stop-color="rgb(209,209,255)"/><stop offset="0.5163" stop-color="rgb(176,176,255)"/><stop offset="0.5928" stop-color="rgb(176,176,255)"/><stop offset="0.5966" stop-color="rgb(191,191,255)"/><stop offset="0.6483" stop-color="rgb(191,191,255)"/><stop offset="0.6520" stop-color="rgb(217,217,255)"/><stop offset="0.6837" stop-color="rgb(217,217,255)"/><stop offset="0.6875" stop-color="rgb(217,217,255)"/><stop offset="0.7161" stop-color="rgb(217,217,255)"/><stop offset="0.7199" stop-color="rgb(224,224,255)"/><stop offset="0.7757" stop-color="rgb(224,224,255)"/><stop offset="0.7795" stop-color="rgb(168,168,255)"/><stop offset="0.7972" stop-color="rgb(168,168,255)"/><stop offset="0.8009" stop-color="rgb(102,102,255)"/><stop offset="0.8277" stop-color="rgb(102,102,255)"/><stop offset="0.8315" stop-color="rgb(209,209,255)"/><stop offset="0.8699" stop-color="rgb(209,209,255)"/><stop offset="0.8737" stop-color="rgb(255,255,255)"/><stop offset="0.9008" stop-color="rgb(255,255,255)"/><stop offset="0.9046" stop-color="rgb(255,255,255)"/><stop offset="0.9344" stop-color="rgb(255,255,255)"/><stop offset="0.9382" stop-color="rgb(255,255,255)"/><stop offset="0.9533" stop-color="rgb(255,255,255)"/><stop offset="0.9570" stop-color="rgb(255,255,255)"/><stop offset="0.9649" stop-color="rgb(255,255,255)"/><stop offset="0.9687" stop-color="rgb(255,255,255)"/><stop offset="0.9751" stop-color="rgb(255,255,255)"/><stop offset="0.9789" stop-color="rgb(255,255,255)"/><stop offset="1.0000" stop-color="rgb(255,255,255)"/></linearGradient>
<rect x="543.60" y="108.75" width="7.20" height="265.25" fill="url(#g3_13)"/>
<linearGradient id="g3_14" gradientUnits="userSpaceOnUse" x1="0" y1="108.75" x2="0" y2="374.0"><stop offset="0.0000" stop-color="rgb(255,255,255)"/><stop offset="0.0650" stop-color="rgb(255,255,255)"/><stop offset="0.0688" stop-color="rgb(255,255,255)"/><stop offset="0.1589" stop-color="rgb(255,255,255)"/><stop offset="0.1627" stop-color="rgb(245,245,255)"/><stop offset="0.2418" stop-color="rgb(245,245,255)"/><stop offset="0.2456" stop-color="rgb(245,245,255)"/><stop offset="0.3263" stop-color="rgb(245,245,255)"/><stop offset="0.3301" stop-color="rgb(240,240,255)"/><stop offset="0.3813" stop-color="rgb(240,240,255)"/><stop offset="0.3851" stop-color="rgb(235,235,255)"/><stop offset="0.4364" stop-color="rgb(235,235,255)"/><stop offset="0.4402" stop-color="rgb(209,209,255)"/><stop offset="0.5125" stop-color="rgb(209,209,255)"/><stop offset="0.5163" stop-color="rgb(184,184,255)"/><stop offset="0.5928" stop-color="rgb(184,184,255)"/><stop offset="0.5966" stop-color="rgb(158,158,255)"/><stop offset="0.6483" stop-color="rgb(158,158,255)"/><stop offset="0.6520" stop-color="rgb(138,138,255)"/><stop offset="0.6837" stop-color="rgb(138,138,255)"/><stop offset="0.6875" stop-color="rgb(143,143,255)"/><stop offset="0.7161" stop-color="rgb(143,143,255)"/><stop offset="0.7199" stop-color="rgb(128,128,255)"/><stop offset="0.7757" stop-color="rgb(128,128,255)"/><stop offset="0.7795" stop-color="rgb(102,102,255)"/><stop offset="0.7972" stop-color="rgb(102,102,255)"/><stop offset="0.8009" stop-color="rgb(140,140,255)"/><stop offset="0.8277" stop-color="rgb(140,140,255)"/><stop offset="0.8315" stop-color="rgb(247,247,255)"/><stop offset="0.8699" stop-color="rgb(247,247,255)"/><stop offset="0.8737" stop-color="rgb(255,255,255)"/><stop offset="0.9008" stop-color="rgb(255,255,255)"/><stop offset="0.9046" stop-color="rgb(255,255,255)"/><stop offset="0.9344" stop-color="rgb(255,255,255)"/><stop offset="0.9382" stop-color="rgb(255,255,255)"/><stop offset="0.9533" stop-color="rgb(255,255,255)"/><stop offset="0.9570" stop-color="rgb(255,255,255)"/><stop offset="0.9649" stop-color="rgb(255,255,255)"/><stop offset="0.9687" stop-color="rgb(255,255,255)"/><stop offset="0.9751" stop-color="rgb(255,255,255)"/><stop offset="0.9789" stop-color="rgb(255,255,255)"/><stop offset="1.0000" stop-color="rgb(255,255,255)"/></linearGradient>
<rect x="550.20" y="108.75" width="7.20" height="265.25" fill="url(#g3_14)"/>
<linearGradient id="g3_15" gradientUnits="userSpaceOnUse" x1="0" y1="108.75" x2="0" y2="374.0"><stop offset="0.0000" stop-color="rgb(255,255,255)"/><stop offset="0.0650" stop-color="rgb(255,255,255)"/><stop offset="0.0688" stop-color="rgb(255,255,255)"/><stop offset="0.1589" stop-color="rgb(255,255,255)"/><stop offset="0.1627" stop-color="rgb(255,255,255)"/><stop offset="0.2418" stop-color="rgb(255,255,255)"/><stop offset="0.2456" stop-color="rgb(247,247,255)"/><stop offset="0.3263" stop-color="rgb(247,247,255)"/><stop offset="0.3301" stop-color="rgb(245,245,255)"/><stop offset="0.3813" stop-color="rgb(245,245,255)"/><stop offset="0.3851" stop-color="rgb(240,240,255)"/><stop offset="0.4364" stop-color="rgb(240,240,255)"/><stop offset="0.4402" stop-color="rgb(230,230,255)"/><stop offset="0.5125" stop-color="rgb(230,230,255)"/><stop offset="0.5163" stop-color="rgb(191,191,255)"/><stop offset="0.5928" stop-color="rgb(191,191,255)"/><stop offset="0.5966" stop-color="rgb(161,161,255)"/><stop offset="0.6483" stop-color="rgb(161,161,255)"/><stop offset="0.6520" stop-color="rgb(115,115,255)"/><stop offset="0.6837" stop-color="rgb(115,115,255)"/><stop offset="0.6875" stop-color="rgb(120,120,255)"/><stop offset="0.7161" stop-color="rgb(120,120,255)"/><stop offset="0.7199" stop-color="rgb(120,120,255)"/><stop offset="0.7757" stop-color="rgb(120,120,255)"/><stop offset="0.7795" stop-color="rgb(135,135,255)"/><stop offset="0.7972" stop-color="rgb(135,135,255)"/><stop offset="0.8009" stop-color="rgb(224,224,255)"/><stop offset="0.8277" stop-color="rgb(224,224,255)"/><stop offset="0.8315" stop-color="rgb(255,255,255)"/><stop offset="0.8699" stop-color="rgb(255,255,255)"/><stop offset="0.8737" stop-color="rgb(255,255,255)"/><stop offset="0.9008" stop-color="rgb(255,255,255)"/><stop offset="0.9046" stop-color="rgb(255,255,255)"/><stop offset="0.9344" stop-color="rgb(255,255,255)"/><stop offset="0.9382" stop-color="rgb(255,255,255)"/><stop offset="0.9533" stop-color="rgb(255,255,255)"/><stop offset="0.9570" stop-color="rgb(255,255,255)"/><stop offset="0.9649" stop-color="rgb(255,255,255)"/><stop offset="0.9687" stop-color="rgb(255,255,255)"/><stop offset="0.9751" stop-color="rgb(255,255,255)"/><stop offset="0.9789" stop-color="rgb(255,255,255)"/><stop offset="1.0000" stop-color="rgb(255,255,255)"/></linearGradient>
<rect x="556.80" y="108.75" width="7.20" height="265.25" fill="url(#g3_15)"/>
<linearGradient id="g3_16" gradientUnits="userSpaceOnUse" x1="0" y1="108.75" x2="0" y2="374.0"><stop offset="0.0000" stop-color="rgb(191,191,255)"/><stop offset="0.0650" stop-color="rgb(191,191,255)"/><stop offset="0.0688" stop-color="rgb(191,191,255)"/><stop offset="0.1589" stop-color="rgb(191,191,255)"/><stop offset="0.1627" stop-color="rgb(184,184,255)"/><stop offset="0.2418" stop-color="rgb(184,184,255)"/><stop offset="0.2456" stop-color="rgb(184,184,255)"/><stop offset="0.3263" stop-color="rgb(184,184,255)"/><stop offset="0.3301" stop-color="rgb(176,176,255)"/><stop offset="0.3813" stop-color="rgb(176,176,255)"/><stop offset="0.3851" stop-color="rgb(176,176,255)"/><stop offset="0.4364" stop-color="rgb(176,176,255)"/><stop offset="0.4402" stop-color="rgb(168,168,255)"/><stop offset="0.5125" stop-color="rgb(168,168,255)"/><stop offset="0.5163" stop-color="rgb(153,153,255)"/><stop offset="0.5928" stop-color="rgb(153,153,255)"/><stop offset="0.5966" stop-color="rgb(140,140,255)"/><stop offset="0.6483" stop-color="rgb(140,140,255)"/><stop offset="0.6520" stop-color="rgb(135,135,255)"/><stop offset="0.6837" stop-color="rgb(135,135,255)"/><stop offset="0.6875" stop-color="rgb(143,143,255)"/><stop offset="0.7161" stop-color="rgb(143,143,255)"/><stop offset="0.7199" stop-color="rgb(168,168,255)"/><stop offset="0.7757" stop-color="rgb(168,168,255)"/><stop offset="0.7795" stop-color="rgb(217,217,255)"/><stop offset="0.7972" stop-color="rgb(217,217,255)"/><stop offset="0.8009" stop-color="rgb(247,247,255)"/><stop offset="0.8277" stop-color="rgb(247,247,255)"/><stop offset="0.8315" stop-color="rgb(255,255,255)"/><stop offset="0.8699" stop-color="rgb(255,255,255)"/><stop offset="0.8737" stop-color="rgb(255,255,255)"/><stop offset="0.9008" stop-color="rgb(255,255,255)"/><stop offset="0.9046" stop-color="rgb(255,255,255)"/><stop offset="0.9344" stop-color="rgb(255,255,255)"/><stop offset="0.9382" stop-color="rgb(255,255,255)"/><stop offset="0.9533" stop-color="rgb(255,255,255)"/><stop offset="0.9570" stop-color="rgb(255,255,255)"/><stop offset="0.9649" stop-color="rgb(255,255,255)"/><stop offset="0.9687" stop-color="rgb(255,255,255)"/><stop offset="0.9751" stop-color="rgb(255,255,255)"/><stop offset="0.9789" stop-color="rgb(255,255,255)"/><stop offset="1.0000" stop-color="rgb(255,255,255)"/></linearGradient>
<rect x="563.40" y="108.75" width="6.60" height="265.25" fill="url(#g3_16)"/>
<rect x="464.10" y="108.9" width="132.70" height="265.30" fill="none" stroke="#505050" stroke-width="1.2" rx="1"/>
<text x="491.87" y="386.00" font-size="10.9">5</text>
<path d="M478,0L478,1170L140,959L140,1180L493,1409L759,1409L759,0Z" transform="translate(521.04,386.00) scale(0.005322,-0.005322)" fill="#000" stroke="#000" stroke-width="56.4"/><text x="527.10" y="386.00" font-size="10.9">0</text>
<path d="M478,0L478,1170L140,959L140,1180L493,1409L759,1409L759,0Z" transform="translate(554.04,386.00) scale(0.005322,-0.005322)" fill="#000" stroke="#000" stroke-width="56.4"/><text x="560.10" y="386.00" font-size="10.9">5</text>
<text x="587.04" y="386.00" font-size="10.9">20</text>
<path d="M478,0L478,1170L140,959L140,1180L493,1409L759,1409L759,0Z" transform="translate(40.18,25.15) scale(0.005371,-0.005371)" fill="#000" stroke="#000" stroke-width="55.9"/>
<text x="24.89" y="44.95" font-size="11">0.75</text>
<text x="31.01" y="64.75" font-size="11">0.5</text>
<text x="24.89" y="84.55" font-size="11">0.25</text>
<path d="M478,0L478,1170L140,959L140,1180L493,1409L759,1409L759,0Z" transform="translate(24.89,113.10) scale(0.005371,-0.005371)" fill="#000" stroke="#000" stroke-width="55.9"/><text x="31.01" y="113.10" font-size="11">0.0</text>
<text x="31.01" y="192.95" font-size="11">5.0</text>
<path d="M478,0L478,1170L140,959L140,1180L493,1409L759,1409L759,0Z" transform="translate(31.01,378.35) scale(0.005371,-0.005371)" fill="#000" stroke="#000" stroke-width="55.9"/><text x="37.13" y="378.35" font-size="11">.0</text>
<text transform="translate(19.6,60.6) rotate(-90)" font-size="11.3" text-anchor="middle">Relative Density</text>
<text transform="translate(10.9,286.1) rotate(-90)" font-size="11.5" text-anchor="start">Distance [ R<tspan font-size="8.6" dy="4.8">Sun</tspan><tspan dy="-4.8"> ]</tspan></text>
<text x="322" y="402.9" font-size="11.4" text-anchor="middle">Charge State</text>
</g>
</svg></body></html>
